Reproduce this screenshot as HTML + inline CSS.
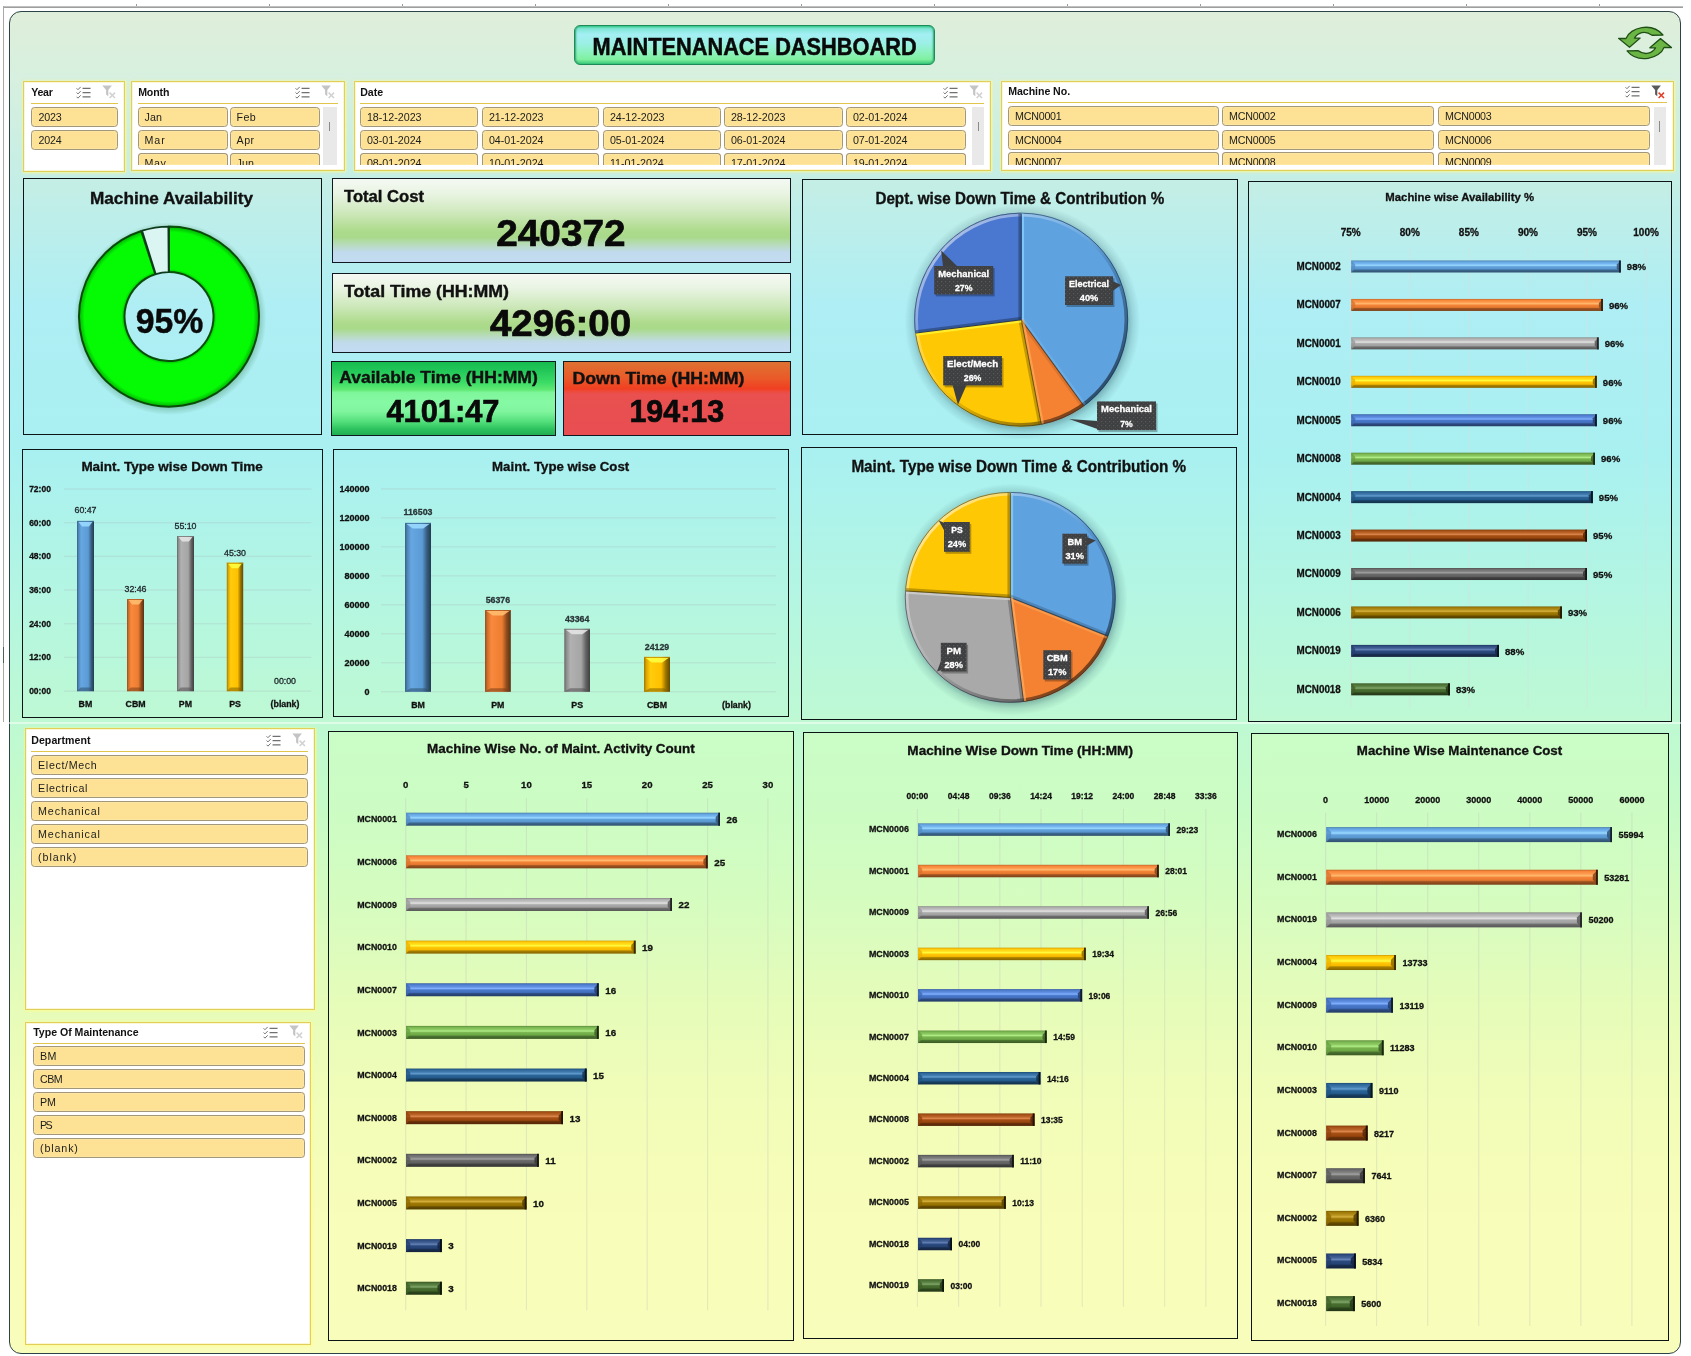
<!DOCTYPE html>
<html lang="en"><head><meta charset="utf-8"><title>Maintenance Dashboard</title>
<style>
html,body{margin:0;padding:0;background:#fff;}
body{width:1691px;height:1356px;position:relative;overflow:hidden;font-family:"Liberation Sans",sans-serif;}
#frame{position:absolute;left:8.6px;top:10.6px;width:1672.5px;height:1343.6px;box-sizing:border-box;
 border:1.7px solid #2c4348;border-radius:12px;
 background:linear-gradient(180deg,#dfeeda 0%,#d7f0df 5%,#c3eee6 13%,#aeeef4 22%,#a9f0f1 33%,#b4f6e1 44%,#bef9d3 53%,#c5fbc7 59%,#d5fcc0 66%,#e6fcb9 74%,#f2fdb8 82%,#f8fdb9 90%,#f9fdbb 100%);}
.topline{position:absolute;left:4px;top:5.6px;width:1679px;height:2px;background:linear-gradient(180deg,#d0d0d0,#8f8f8f);}
.tk{position:absolute;top:3.6px;width:1px;height:3px;background:#9a9a9a;}
.leftline{position:absolute;left:3px;top:6px;width:1.2px;height:716px;background:#a8a8a8;}
.leftmark{position:absolute;left:3px;top:647px;width:1.2px;height:16px;background:#4a6258;}
.seam{position:absolute;top:722.4px;height:1.2px;background:rgba(255,255,255,0.5);}
.panel{position:absolute;box-sizing:border-box;border:1.3px solid #0c1416;}
.pb{background:linear-gradient(180deg,rgba(212,255,190,0.55) 0%,rgba(214,254,190,0.38) 14%,rgba(220,253,190,0) 40%);}
.kpi{position:absolute;box-sizing:border-box;border:1.2px solid #101820;}
.k1{background:linear-gradient(180deg,#f4f9f3 0%,#e9f4e2 18%,#cfe9bd 40%,#aedb8d 62%,#a9d98a 70%,#b9dcc0 80%,#c1daec 88%,#c4dcf2 100%);}
.k2{background:linear-gradient(180deg,#16bd4e 0%,#1fc556 10%,#3bdc66 28%,#5fe973 38%,#7ff69b 42%,#86f9a4 55%,#80f59e 68%,#52de7a 82%,#2cc25e 92%,#1fae52 100%);}
.k3{background:linear-gradient(180deg,#de7232 0%,#ea5a28 22%,#f03f22 37%,#ee4a3a 40%,#e9504f 44%,#e84e52 100%);}
#title{position:absolute;left:574px;top:25.4px;width:361px;height:40.4px;box-sizing:border-box;
 border:1.4px solid #1e8a58;border-radius:6px;
 background:linear-gradient(180deg,#34c98a 0%,#7fe6d4 7%,#a4eff4 22%,#9cf0e6 45%,#8cf2bd 70%,#7ff0a0 88%,#37c777 100%);
 box-shadow:inset 2px 0 2px -1px #2aa66e, inset -2px 0 2px -1px #2aa66e;}
.slicer{position:absolute;box-sizing:border-box;border:1px solid #e2cf5a;background:#fff;overflow:hidden;
 box-shadow:inset 0 0 0 1px #fbf6d4, 0 0 2.5px 0.5px rgba(255,252,140,0.85);}
.sh{position:absolute;font-weight:bold;color:#111;white-space:nowrap;line-height:13px;}
.ul{position:absolute;height:1.3px;background:#dfc54c;}
.ic{position:absolute;}
.sb{position:absolute;box-sizing:border-box;border:1px solid #a2977a;border-radius:3.5px;background:#fde295;
 font-size:10.6px;color:#1c1c1c;white-space:nowrap;overflow:hidden;
 box-shadow:inset 0 0 0 1px #fde6a2;}
.sb span{position:absolute;left:6.2px;top:1.6px;line-height:14px;}
.sc{position:absolute;background:#e9e9e9;}
.st{position:absolute;width:1px;background:#8a8a8a;}
svg text{font-family:"Liberation Sans",sans-serif;}
#charts{position:absolute;left:0;top:0;}
#charts,.slicer,.kpi,#title{will-change:transform;}
</style></head>
<body>
<div class="tk" style="left:135.7px"></div><div class="tk" style="left:268.75px"></div><div class="tk" style="left:401.8px"></div><div class="tk" style="left:534.85px"></div><div class="tk" style="left:667.9px"></div><div class="tk" style="left:800.95px"></div><div class="tk" style="left:934px"></div><div class="tk" style="left:1067.05px"></div><div class="tk" style="left:1200.1px"></div><div class="tk" style="left:1333.15px"></div><div class="tk" style="left:1466.2px"></div><div class="tk" style="left:1599.25px"></div>
<div class="topline"></div><div class="leftline"></div><div class="leftmark"></div>
<div id="frame"></div>
<div class="seam" style="left:0;width:1691px"></div>
<div id="title"><svg width="361" height="40" style="position:absolute;left:-1.4px;top:-1.4px"><text x="180.6" y="30" font-size="23.6" font-weight="bold" fill="#0a0a0a" stroke="#0a0a0a" stroke-width="0.5" text-anchor="middle" textLength="324" lengthAdjust="spacingAndGlyphs">MAINTENANACE DASHBOARD</text></svg></div>
<svg style="position:absolute;left:1617px;top:24.2px" width="56" height="39" viewBox="0 0 56 36" preserveAspectRatio="none"><g fill="#6bb545" stroke="#1f4f17" stroke-width="1.2" stroke-linejoin="round"><path d="M1.5 13.2 L9 13.4 C13 3 35 -2 46 10.2 L35 10.4 C28 5.6 21 8 17.4 13 L23.2 13 L12.5 21.5 Z"/><path d="M54.5 21.8 L47 21.6 C43 32 21 37 10 24.8 L21 24.6 C28 29.4 35 27 38.6 22 L32.8 22 L43.5 13.5 Z"/></g></svg>
<div class="panel" style="left:22.5px;top:177.5px;width:299.5px;height:257px;"></div>
<div class="panel" style="left:802px;top:179px;width:436px;height:255.5px;"></div>
<div class="panel" style="left:1248px;top:181px;width:423.5px;height:540.5px;"></div>
<div class="panel" style="left:22px;top:449px;width:301px;height:269px;"></div>
<div class="panel" style="left:333px;top:449px;width:456.3px;height:268.2px;"></div>
<div class="panel" style="left:801.3px;top:447px;width:435.7px;height:272.8px;"></div>
<div class="panel pb" style="left:328px;top:731px;width:465.6px;height:610.3px;"></div>
<div class="panel pb" style="left:803px;top:732.3px;width:435px;height:606.9px;"></div>
<div class="panel pb" style="left:1251px;top:733.2px;width:418px;height:607.6px;"></div>
<div class="kpi k1" style="left:332px;top:178px;width:459px;height:84.8px;"><svg width="459" height="84.8" style="position:absolute;left:0;top:0;overflow:visible"><text x="11" y="22.5" font-size="16.4" font-weight="bold" fill="#111" stroke="#111" stroke-width="0.4" textLength="80" lengthAdjust="spacingAndGlyphs">Total Cost</text><text x="227.9" y="66.6" font-size="37" font-weight="bold" fill="#0a0a0a" stroke="#0a0a0a" stroke-width="0.7" text-anchor="middle" textLength="129.2" lengthAdjust="spacingAndGlyphs">240372</text></svg></div>
<div class="kpi k1" style="left:332px;top:273.2px;width:459px;height:80.4px;"><svg width="459" height="80.4" style="position:absolute;left:0;top:0;overflow:visible"><text x="11" y="23" font-size="16.4" font-weight="bold" fill="#111" stroke="#111" stroke-width="0.4" textLength="165" lengthAdjust="spacingAndGlyphs">Total Time (HH:MM)</text><text x="227.55" y="62.1" font-size="36.5" font-weight="bold" fill="#0a0a0a" stroke="#0a0a0a" stroke-width="0.7" text-anchor="middle" textLength="141.3" lengthAdjust="spacingAndGlyphs">4296:00</text></svg></div>
<div class="kpi k2" style="left:330.8px;top:360.8px;width:225.4px;height:74.6px;"><svg width="225.4" height="74.6" style="position:absolute;left:0;top:0;overflow:visible"><text x="7.2" y="21.2" font-size="16.4" font-weight="bold" fill="#111" stroke="#111" stroke-width="0.4" textLength="198.6" lengthAdjust="spacingAndGlyphs">Available Time (HH:MM)</text><text x="110.9" y="60" font-size="31.5" font-weight="bold" fill="#0a0a0a" stroke="#0a0a0a" stroke-width="0.7" text-anchor="middle" textLength="113" lengthAdjust="spacingAndGlyphs">4101:47</text></svg></div>
<div class="kpi k3" style="left:562.8px;top:360.8px;width:228.2px;height:74.6px;"><svg width="228.2" height="74.6" style="position:absolute;left:0;top:0;overflow:visible"><text x="8.4" y="21.7" font-size="16.4" font-weight="bold" fill="#111" stroke="#111" stroke-width="0.4" textLength="172" lengthAdjust="spacingAndGlyphs">Down Time (HH:MM)</text><text x="112.75" y="60" font-size="31.5" font-weight="bold" fill="#0a0a0a" stroke="#0a0a0a" stroke-width="0.7" text-anchor="middle" textLength="94.7" lengthAdjust="spacingAndGlyphs">194:13</text></svg></div>
<div class="slicer" style="left:23px;top:81px;width:102px;height:91px;"><div class="sh" style="left:7.2px;top:3.8px;font-size:10.6px;letter-spacing:-0.26px">Year</div><div class="ul" style="left:7px;top:20.9px;width:87px"></div><svg class="ic" style="left:51.5px;top:3.8px" width="15" height="13.2" viewBox="0 0 16 14"><g fill="none" stroke="#707070" stroke-width="1.05"><path d="M0.6 2.4l1.5 1.5L5 0.9M0.6 6.9l1.5 1.5L5 5.4M0.6 11.4l1.5 1.5L5 9.9"/><path d="M7 2.5h8.5M7 7h8.5M7 11.5h8.5" stroke-width="1.3"/></g></svg><svg class="ic" style="left:77.5px;top:3.4px" width="15" height="14" viewBox="0 0 15 14"><path d="M0.3 0.6h9.6L6.3 5v6.2L4.1 9.6V5z" fill="#c4c4c4"/><path d="M7.6 7.6l5.4 5.4M13 7.6l-5.4 5.4" stroke="#d2d2d2" stroke-width="1.5" fill="none"/></svg><div class="sb" style="left:7px;top:25px;width:87px;height:20px;"><span style="left:6.5px;font-size:10.7px;letter-spacing:-0.23px">2023</span></div><div class="sb" style="left:7px;top:48px;width:87px;height:20px;"><span style="left:6.5px;font-size:10.7px;letter-spacing:-0.17px">2024</span></div></div>
<div class="slicer" style="left:131px;top:81px;width:214px;height:90px;"><div class="sh" style="left:6.2px;top:3.8px;font-size:10.6px;letter-spacing:-0.15px">Month</div><div class="ul" style="left:6px;top:20.9px;width:199.6px"></div><svg class="ic" style="left:162.6px;top:3.8px" width="15" height="13.2" viewBox="0 0 16 14"><g fill="none" stroke="#707070" stroke-width="1.05"><path d="M0.6 2.4l1.5 1.5L5 0.9M0.6 6.9l1.5 1.5L5 5.4M0.6 11.4l1.5 1.5L5 9.9"/><path d="M7 2.5h8.5M7 7h8.5M7 11.5h8.5" stroke-width="1.3"/></g></svg><svg class="ic" style="left:189px;top:3.4px" width="15" height="14" viewBox="0 0 15 14"><path d="M0.3 0.6h9.6L6.3 5v6.2L4.1 9.6V5z" fill="#c4c4c4"/><path d="M7.6 7.6l5.4 5.4M13 7.6l-5.4 5.4" stroke="#d2d2d2" stroke-width="1.5" fill="none"/></svg><div class="sb" style="left:6px;top:25px;width:90px;height:20px;"><span style="left:5.6px;font-size:10.7px;letter-spacing:0.1px">Jan</span></div><div class="sb" style="left:98px;top:25px;width:90px;height:20px;"><span style="left:5.6px;font-size:10.7px;letter-spacing:0.3px">Feb</span></div><div class="sb" style="left:6px;top:48px;width:90px;height:20px;"><span style="left:5.6px;font-size:10.7px;letter-spacing:0.87px">Mar</span></div><div class="sb" style="left:98px;top:48px;width:90px;height:20px;"><span style="left:5.6px;font-size:10.7px;letter-spacing:0.42px">Apr</span></div><div class="sb" style="left:6px;top:71px;width:90px;height:11.8px;border-bottom:none;border-radius:3.5px 3.5px 0 0;"><span style="left:5.6px;font-size:10.7px;letter-spacing:0.51px">May</span></div><div class="sb" style="left:98px;top:71px;width:90px;height:11.8px;border-bottom:none;border-radius:3.5px 3.5px 0 0;"><span style="left:5.6px;font-size:10.7px;letter-spacing:0.02px">Jun</span></div><div class="sc" style="left:191.3px;top:25.2px;width:13.4px;height:57.6px"></div><div class="st" style="left:197.4px;top:40px;height:9.3px"></div></div>
<div class="slicer" style="left:354px;top:81px;width:637px;height:90px;"><div class="sh" style="left:5.2px;top:3.8px;font-size:10.6px;letter-spacing:0.01px">Date</div><div class="ul" style="left:5px;top:20.9px;width:624.4px"></div><svg class="ic" style="left:588.2px;top:3.8px" width="15" height="13.2" viewBox="0 0 16 14"><g fill="none" stroke="#707070" stroke-width="1.05"><path d="M0.6 2.4l1.5 1.5L5 0.9M0.6 6.9l1.5 1.5L5 5.4M0.6 11.4l1.5 1.5L5 9.9"/><path d="M7 2.5h8.5M7 7h8.5M7 11.5h8.5" stroke-width="1.3"/></g></svg><svg class="ic" style="left:613.6px;top:3.4px" width="15" height="14" viewBox="0 0 15 14"><path d="M0.3 0.6h9.6L6.3 5v6.2L4.1 9.6V5z" fill="#c4c4c4"/><path d="M7.6 7.6l5.4 5.4M13 7.6l-5.4 5.4" stroke="#d2d2d2" stroke-width="1.5" fill="none"/></svg><div class="sb" style="left:5px;top:25px;width:118px;height:20px;"><span style="left:5.9px;font-size:10.7px;letter-spacing:0px">18-12-2023</span></div><div class="sb" style="left:127px;top:25px;width:117px;height:20px;"><span style="left:5.9px;font-size:10.7px;letter-spacing:0px">21-12-2023</span></div><div class="sb" style="left:248px;top:25px;width:118px;height:20px;"><span style="left:5.9px;font-size:10.7px;letter-spacing:0px">24-12-2023</span></div><div class="sb" style="left:369px;top:25px;width:119px;height:20px;"><span style="left:5.9px;font-size:10.7px;letter-spacing:0px">28-12-2023</span></div><div class="sb" style="left:491px;top:25px;width:120px;height:20px;"><span style="left:5.9px;font-size:10.7px;letter-spacing:0px">02-01-2024</span></div><div class="sb" style="left:5px;top:48px;width:118px;height:20px;"><span style="left:5.9px;font-size:10.7px;letter-spacing:0px">03-01-2024</span></div><div class="sb" style="left:127px;top:48px;width:117px;height:20px;"><span style="left:5.9px;font-size:10.7px;letter-spacing:0px">04-01-2024</span></div><div class="sb" style="left:248px;top:48px;width:118px;height:20px;"><span style="left:5.9px;font-size:10.7px;letter-spacing:0px">05-01-2024</span></div><div class="sb" style="left:369px;top:48px;width:119px;height:20px;"><span style="left:5.9px;font-size:10.7px;letter-spacing:0px">06-01-2024</span></div><div class="sb" style="left:491px;top:48px;width:120px;height:20px;"><span style="left:5.9px;font-size:10.7px;letter-spacing:0px">07-01-2024</span></div><div class="sb" style="left:5px;top:71px;width:118px;height:11.8px;border-bottom:none;border-radius:3.5px 3.5px 0 0;"><span style="left:5.9px;font-size:10.7px;letter-spacing:0px">08-01-2024</span></div><div class="sb" style="left:127px;top:71px;width:117px;height:11.8px;border-bottom:none;border-radius:3.5px 3.5px 0 0;"><span style="left:5.9px;font-size:10.7px;letter-spacing:0px">10-01-2024</span></div><div class="sb" style="left:248px;top:71px;width:118px;height:11.8px;border-bottom:none;border-radius:3.5px 3.5px 0 0;"><span style="left:5.9px;font-size:10.7px;letter-spacing:0px">11-01-2024</span></div><div class="sb" style="left:369px;top:71px;width:119px;height:11.8px;border-bottom:none;border-radius:3.5px 3.5px 0 0;"><span style="left:5.9px;font-size:10.7px;letter-spacing:0px">17-01-2024</span></div><div class="sb" style="left:491px;top:71px;width:120px;height:11.8px;border-bottom:none;border-radius:3.5px 3.5px 0 0;"><span style="left:5.9px;font-size:10.7px;letter-spacing:0px">19-01-2024</span></div><div class="sc" style="left:616.9px;top:25.2px;width:12.5px;height:57.6px"></div><div class="st" style="left:622.55px;top:40px;height:9.3px"></div></div>
<div class="slicer" style="left:1001px;top:81px;width:673px;height:90px;"><div class="sh" style="left:6.2px;top:2.9px;font-size:10.6px;letter-spacing:-0.05px">Machine No.</div><div class="ul" style="left:6px;top:20px;width:659px"></div><svg class="ic" style="left:623px;top:2.9px" width="15" height="13.2" viewBox="0 0 16 14"><g fill="none" stroke="#707070" stroke-width="1.05"><path d="M0.6 2.4l1.5 1.5L5 0.9M0.6 6.9l1.5 1.5L5 5.4M0.6 11.4l1.5 1.5L5 9.9"/><path d="M7 2.5h8.5M7 7h8.5M7 11.5h8.5" stroke-width="1.3"/></g></svg><svg class="ic" style="left:649.3px;top:2.5px" width="15" height="14" viewBox="0 0 15 14"><path d="M0.3 0.6h9.6L6.3 5v6.2L4.1 9.6V5z" fill="#5a5a5a"/><path d="M7.6 7.6l5.4 5.4M13 7.6l-5.4 5.4" stroke="#e0402a" stroke-width="1.5" fill="none"/></svg><div class="sb" style="left:6px;top:24px;width:211px;height:20px;"><span style="left:6.1px;font-size:10.7px;letter-spacing:-0.25px">MCN0001</span></div><div class="sb" style="left:220px;top:24px;width:212px;height:20px;"><span style="left:6.1px;font-size:10.7px;letter-spacing:-0.25px">MCN0002</span></div><div class="sb" style="left:436px;top:24px;width:212px;height:20px;"><span style="left:6.1px;font-size:10.7px;letter-spacing:-0.25px">MCN0003</span></div><div class="sb" style="left:6px;top:48px;width:211px;height:20px;"><span style="left:6.1px;font-size:10.7px;letter-spacing:-0.25px">MCN0004</span></div><div class="sb" style="left:220px;top:48px;width:212px;height:20px;"><span style="left:6.1px;font-size:10.7px;letter-spacing:-0.25px">MCN0005</span></div><div class="sb" style="left:436px;top:48px;width:212px;height:20px;"><span style="left:6.1px;font-size:10.7px;letter-spacing:-0.25px">MCN0006</span></div><div class="sb" style="left:6px;top:70px;width:211px;height:12.6px;border-bottom:none;border-radius:3.5px 3.5px 0 0;"><span style="left:6.1px;font-size:10.7px;letter-spacing:-0.25px">MCN0007</span></div><div class="sb" style="left:220px;top:70px;width:212px;height:12.6px;border-bottom:none;border-radius:3.5px 3.5px 0 0;"><span style="left:6.1px;font-size:10.7px;letter-spacing:-0.25px">MCN0008</span></div><div class="sb" style="left:436px;top:70px;width:212px;height:12.6px;border-bottom:none;border-radius:3.5px 3.5px 0 0;"><span style="left:6.1px;font-size:10.7px;letter-spacing:-0.25px">MCN0009</span></div><div class="sc" style="left:651.5px;top:24.5px;width:12.9px;height:58.1px"></div><div class="st" style="left:657.35px;top:39.1px;height:10.9px"></div></div>
<div class="slicer" style="left:25px;top:728px;width:290px;height:282px;"><div class="sh" style="left:5.2px;top:4.6px;font-size:10.6px;letter-spacing:0.06px">Department</div><div class="ul" style="left:5px;top:21.6px;width:277px"></div><svg class="ic" style="left:240.3px;top:4.6px" width="15" height="13.2" viewBox="0 0 16 14"><g fill="none" stroke="#707070" stroke-width="1.05"><path d="M0.6 2.4l1.5 1.5L5 0.9M0.6 6.9l1.5 1.5L5 5.4M0.6 11.4l1.5 1.5L5 9.9"/><path d="M7 2.5h8.5M7 7h8.5M7 11.5h8.5" stroke-width="1.3"/></g></svg><svg class="ic" style="left:265.9px;top:4.2px" width="15" height="14" viewBox="0 0 15 14"><path d="M0.3 0.6h9.6L6.3 5v6.2L4.1 9.6V5z" fill="#c4c4c4"/><path d="M7.6 7.6l5.4 5.4M13 7.6l-5.4 5.4" stroke="#d2d2d2" stroke-width="1.5" fill="none"/></svg><div class="sb" style="left:5px;top:26px;width:277px;height:20px;"><span style="left:6.1px;font-size:10.7px;letter-spacing:0.64px">Elect/Mech</span></div><div class="sb" style="left:5px;top:49px;width:277px;height:20px;"><span style="left:6.1px;font-size:10.7px;letter-spacing:0.66px">Electrical</span></div><div class="sb" style="left:5px;top:72px;width:277px;height:20px;"><span style="left:6.1px;font-size:10.7px;letter-spacing:0.87px">Mechanical</span></div><div class="sb" style="left:5px;top:95px;width:277px;height:20px;"><span style="left:6.1px;font-size:10.7px;letter-spacing:0.87px">Mechanical</span></div><div class="sb" style="left:5px;top:118px;width:277px;height:20px;"><span style="left:6.1px;font-size:10.7px;letter-spacing:0.94px">(blank)</span></div></div>
<div class="slicer" style="left:25px;top:1022px;width:286px;height:323px;"><div class="sh" style="left:7.2px;top:2.6px;font-size:10.6px;letter-spacing:-0.02px">Type Of Maintenance</div><div class="ul" style="left:7px;top:19.5px;width:272px"></div><svg class="ic" style="left:236.6px;top:2.6px" width="15" height="13.2" viewBox="0 0 16 14"><g fill="none" stroke="#707070" stroke-width="1.05"><path d="M0.6 2.4l1.5 1.5L5 0.9M0.6 6.9l1.5 1.5L5 5.4M0.6 11.4l1.5 1.5L5 9.9"/><path d="M7 2.5h8.5M7 7h8.5M7 11.5h8.5" stroke-width="1.3"/></g></svg><svg class="ic" style="left:262.6px;top:2.2px" width="15" height="14" viewBox="0 0 15 14"><path d="M0.3 0.6h9.6L6.3 5v6.2L4.1 9.6V5z" fill="#c4c4c4"/><path d="M7.6 7.6l5.4 5.4M13 7.6l-5.4 5.4" stroke="#d2d2d2" stroke-width="1.5" fill="none"/></svg><div class="sb" style="left:7px;top:23px;width:272px;height:20px;"><span style="left:6.1px;font-size:10.7px;letter-spacing:0.37px">BM</span></div><div class="sb" style="left:7px;top:46px;width:272px;height:20px;"><span style="left:6.1px;font-size:10.7px;letter-spacing:-0.63px">CBM</span></div><div class="sb" style="left:7px;top:69px;width:272px;height:20px;"><span style="left:6.1px;font-size:10.7px;letter-spacing:-0.3px">PM</span></div><div class="sb" style="left:7px;top:92px;width:272px;height:20px;"><span style="left:6.1px;font-size:10.7px;letter-spacing:-1.65px">PS</span></div><div class="sb" style="left:7px;top:115px;width:272px;height:20px;"><span style="left:6.1px;font-size:10.7px;letter-spacing:0.86px">(blank)</span></div></div>
<svg id="charts" width="1691" height="1356" viewBox="0 0 1691 1356">
<defs><pattern id="dots" width="4" height="4" patternUnits="userSpaceOnUse"><rect width="4" height="4" fill="#3f4041"/><rect x="1" y="1" width="1.2" height="1.2" fill="#5a5a5a"/><rect x="3" y="3" width="1.2" height="1.2" fill="#4e4e4e"/></pattern><radialGradient id="dnsh" cx="0.5" cy="0.5" r="0.5"><stop offset="0.80" stop-color="#0a500a" stop-opacity="0"/><stop offset="0.90" stop-color="#0a500a" stop-opacity="0.30"/><stop offset="1" stop-color="#0a500a" stop-opacity="0"/></radialGradient><radialGradient id="dnbv" cx="0.5" cy="0.5" r="0.5"><stop offset="0.49" stop-color="#003000" stop-opacity="0.35"/><stop offset="0.53" stop-color="#003000" stop-opacity="0"/><stop offset="0.94" stop-color="#003000" stop-opacity="0"/><stop offset="1" stop-color="#003000" stop-opacity="0.38"/></radialGradient><radialGradient id="p1sh" cx="0.5" cy="0.5" r="0.5"><stop offset="0.88" stop-color="#1c4a55" stop-opacity="0.40"/><stop offset="0.94" stop-color="#1c4a55" stop-opacity="0.14"/><stop offset="1" stop-color="#1c4a55" stop-opacity="0"/></radialGradient><linearGradient id="rimlg" x1="0.15" y1="0.15" x2="0.85" y2="0.85"><stop offset="0" stop-color="#fff" stop-opacity="0.50"/><stop offset="0.42" stop-color="#fff" stop-opacity="0.10"/><stop offset="0.58" stop-color="#000" stop-opacity="0.12"/><stop offset="1" stop-color="#000" stop-opacity="0.50"/></linearGradient><radialGradient id="p2sh" cx="0.5" cy="0.5" r="0.5"><stop offset="0.88" stop-color="#1c4a55" stop-opacity="0.40"/><stop offset="0.94" stop-color="#1c4a55" stop-opacity="0.14"/><stop offset="1" stop-color="#1c4a55" stop-opacity="0"/></radialGradient><linearGradient id="hb5b9bd5" x1="0" y1="0" x2="0" y2="1"><stop offset="0" stop-color="#497caa"/><stop offset="0.10" stop-color="#63a3dd"/><stop offset="0.28" stop-color="#79b9f3"/><stop offset="0.40" stop-color="#99d9ff"/><stop offset="0.52" stop-color="#61a1db"/><stop offset="0.70" stop-color="#5896cf"/><stop offset="0.80" stop-color="#3c668d"/><stop offset="1" stop-color="#2f516f"/></linearGradient><linearGradient id="hbed7d31" x1="0" y1="0" x2="0" y2="1"><stop offset="0" stop-color="#be6427"/><stop offset="0.10" stop-color="#f58539"/><stop offset="0.28" stop-color="#ff9b4f"/><stop offset="0.40" stop-color="#ffbb6f"/><stop offset="0.52" stop-color="#f38337"/><stop offset="0.70" stop-color="#e67930"/><stop offset="0.80" stop-color="#9c5220"/><stop offset="1" stop-color="#7b4119"/></linearGradient><linearGradient id="hba5a5a5" x1="0" y1="0" x2="0" y2="1"><stop offset="0" stop-color="#848484"/><stop offset="0.10" stop-color="#adadad"/><stop offset="0.28" stop-color="#c3c3c3"/><stop offset="0.40" stop-color="#e3e3e3"/><stop offset="0.52" stop-color="#ababab"/><stop offset="0.70" stop-color="#a0a0a0"/><stop offset="0.80" stop-color="#6d6d6d"/><stop offset="1" stop-color="#565656"/></linearGradient><linearGradient id="hbffc000" x1="0" y1="0" x2="0" y2="1"><stop offset="0" stop-color="#cc9a00"/><stop offset="0.10" stop-color="#ffc808"/><stop offset="0.28" stop-color="#ffde1e"/><stop offset="0.40" stop-color="#fffe3e"/><stop offset="0.52" stop-color="#ffc606"/><stop offset="0.70" stop-color="#f7ba00"/><stop offset="0.80" stop-color="#a87f00"/><stop offset="1" stop-color="#856400"/></linearGradient><linearGradient id="hb4472c4" x1="0" y1="0" x2="0" y2="1"><stop offset="0" stop-color="#365b9d"/><stop offset="0.10" stop-color="#4c7acc"/><stop offset="0.28" stop-color="#6290e2"/><stop offset="0.40" stop-color="#82b0ff"/><stop offset="0.52" stop-color="#4a78ca"/><stop offset="0.70" stop-color="#426fbe"/><stop offset="0.80" stop-color="#2d4b81"/><stop offset="1" stop-color="#233b66"/></linearGradient><linearGradient id="hb70ad47" x1="0" y1="0" x2="0" y2="1"><stop offset="0" stop-color="#5a8a39"/><stop offset="0.10" stop-color="#78b54f"/><stop offset="0.28" stop-color="#8ecb65"/><stop offset="0.40" stop-color="#aeeb85"/><stop offset="0.52" stop-color="#76b34d"/><stop offset="0.70" stop-color="#6da845"/><stop offset="0.80" stop-color="#4a722f"/><stop offset="1" stop-color="#3a5a25"/></linearGradient><linearGradient id="hb255e91" x1="0" y1="0" x2="0" y2="1"><stop offset="0" stop-color="#1e4b74"/><stop offset="0.10" stop-color="#2d6699"/><stop offset="0.28" stop-color="#437caf"/><stop offset="0.40" stop-color="#639ccf"/><stop offset="0.52" stop-color="#2b6497"/><stop offset="0.70" stop-color="#245b8d"/><stop offset="0.80" stop-color="#183e60"/><stop offset="1" stop-color="#13314b"/></linearGradient><linearGradient id="hb9e480e" x1="0" y1="0" x2="0" y2="1"><stop offset="0" stop-color="#7e3a0b"/><stop offset="0.10" stop-color="#a65016"/><stop offset="0.28" stop-color="#bc662c"/><stop offset="0.40" stop-color="#dc864c"/><stop offset="0.52" stop-color="#a44e14"/><stop offset="0.70" stop-color="#99460e"/><stop offset="0.80" stop-color="#683009"/><stop offset="1" stop-color="#522507"/></linearGradient><linearGradient id="hb636363" x1="0" y1="0" x2="0" y2="1"><stop offset="0" stop-color="#4f4f4f"/><stop offset="0.10" stop-color="#6b6b6b"/><stop offset="0.28" stop-color="#818181"/><stop offset="0.40" stop-color="#a1a1a1"/><stop offset="0.52" stop-color="#696969"/><stop offset="0.70" stop-color="#606060"/><stop offset="0.80" stop-color="#414141"/><stop offset="1" stop-color="#333333"/></linearGradient><linearGradient id="hb997300" x1="0" y1="0" x2="0" y2="1"><stop offset="0" stop-color="#7a5c00"/><stop offset="0.10" stop-color="#a17b08"/><stop offset="0.28" stop-color="#b7911e"/><stop offset="0.40" stop-color="#d7b13e"/><stop offset="0.52" stop-color="#9f7906"/><stop offset="0.70" stop-color="#947000"/><stop offset="0.80" stop-color="#654c00"/><stop offset="1" stop-color="#503c00"/></linearGradient><linearGradient id="hb264478" x1="0" y1="0" x2="0" y2="1"><stop offset="0" stop-color="#1e3660"/><stop offset="0.10" stop-color="#2e4c80"/><stop offset="0.28" stop-color="#446296"/><stop offset="0.40" stop-color="#6482b6"/><stop offset="0.52" stop-color="#2c4a7e"/><stop offset="0.70" stop-color="#254274"/><stop offset="0.80" stop-color="#192d4f"/><stop offset="1" stop-color="#14233e"/></linearGradient><linearGradient id="hb43682b" x1="0" y1="0" x2="0" y2="1"><stop offset="0" stop-color="#365322"/><stop offset="0.10" stop-color="#4b7033"/><stop offset="0.28" stop-color="#618649"/><stop offset="0.40" stop-color="#81a669"/><stop offset="0.52" stop-color="#496e31"/><stop offset="0.70" stop-color="#41652a"/><stop offset="0.80" stop-color="#2c451c"/><stop offset="1" stop-color="#233616"/></linearGradient><linearGradient id="vb5b9bd5" x1="0" y1="0" x2="1" y2="0"><stop offset="0" stop-color="#386084"/><stop offset="0.09" stop-color="#4e85b7"/><stop offset="0.24" stop-color="#67a7e1"/><stop offset="0.66" stop-color="#5b9bd5"/><stop offset="0.84" stop-color="#375d80"/><stop offset="1" stop-color="#233b51"/></linearGradient><linearGradient id="vbed7d31" x1="0" y1="0" x2="1" y2="0"><stop offset="0" stop-color="#934e1e"/><stop offset="0.09" stop-color="#cc6c2a"/><stop offset="0.24" stop-color="#f9893d"/><stop offset="0.66" stop-color="#ed7d31"/><stop offset="0.84" stop-color="#8e4b1d"/><stop offset="1" stop-color="#5a3013"/></linearGradient><linearGradient id="vba5a5a5" x1="0" y1="0" x2="1" y2="0"><stop offset="0" stop-color="#666666"/><stop offset="0.09" stop-color="#8e8e8e"/><stop offset="0.24" stop-color="#b1b1b1"/><stop offset="0.66" stop-color="#a5a5a5"/><stop offset="0.84" stop-color="#636363"/><stop offset="1" stop-color="#3f3f3f"/></linearGradient><linearGradient id="vbffc000" x1="0" y1="0" x2="1" y2="0"><stop offset="0" stop-color="#9e7700"/><stop offset="0.09" stop-color="#dba500"/><stop offset="0.24" stop-color="#ffcc0c"/><stop offset="0.66" stop-color="#ffc000"/><stop offset="0.84" stop-color="#997300"/><stop offset="1" stop-color="#614900"/></linearGradient></defs>
<text x="171.5" y="204.2" font-size="16.6" font-weight="bold" text-anchor="middle" fill="#111" textLength="163" lengthAdjust="spacingAndGlyphs" stroke="#111" stroke-width="0.34">Machine Availability</text>
<circle cx="170" cy="318.6" r="96.3" fill="url(#dnsh)"/>
<path d="M169,226.6 A90,90 0 1 1 141.19,231 L155.25,274.28 A44.5,44.5 0 1 0 169,272.1 Z" fill="#04fb04" stroke="#0c520c" stroke-width="2" stroke-linejoin="round"/>
<path d="M142.09,230.72 A90,90 0 0 1 168.37,226.6 L168.69,272.1 A44.5,44.5 0 0 0 155.69,274.14 Z" fill="#dbf5f2" stroke="#0c3a1c" stroke-width="1.8" stroke-linejoin="round"/>
<path d="M169,226.6 A90,90 0 1 1 141.19,231 L155.25,274.28 A44.5,44.5 0 1 0 169,272.1 Z" fill="url(#dnbv)"/>
<text x="169.6" y="333.3" font-size="35" font-weight="bold" text-anchor="middle" fill="#0a0a0a" textLength="67.6" lengthAdjust="spacingAndGlyphs" stroke="#0a0a0a" stroke-width="0.45">95%</text>
<text x="1019.85" y="204" font-size="15.6" font-weight="bold" text-anchor="middle" fill="#111" textLength="288.9" lengthAdjust="spacingAndGlyphs" stroke="#111" stroke-width="0.33">Dept. wise Down Time &amp; Contribution %</text>
<circle cx="1022.4" cy="321.9" r="117.7" fill="url(#p1sh)"/>
<path d="M1021.2,319.7 L1021.2,212.7 A107,107 0 0 1 1084.09,406.26 Z" fill="#5ea2e0"/>
<path d="M1021.2,319.7 L1084.09,406.26 A107,107 0 0 1 1041.25,424.8 Z" fill="#f58233"/>
<path d="M1021.2,319.7 L1041.25,424.8 A107,107 0 0 1 915.04,333.11 Z" fill="#ffc805"/>
<path d="M1021.2,319.7 L915.04,333.11 A107,107 0 0 1 1021.2,212.7 Z" fill="#4a78d0"/>
<circle cx="1021.2" cy="319.7" r="105" fill="none" stroke="url(#rimlg)" stroke-width="3.4"/>
<circle cx="1021.2" cy="319.7" r="106.5" fill="none" stroke="#10263a" stroke-opacity="0.55" stroke-width="1"/>
<line x1="1019.5" y1="319.7" x2="1019.5" y2="213.7" stroke="#21365e" stroke-width="2.3" stroke-opacity="0.49"/>
<line x1="1022.9" y1="319.7" x2="1022.9" y2="213.7" stroke="#8ed2ff" stroke-width="2.3" stroke-opacity="0.72"/>
<line x1="1021.2" y1="319.7" x2="1021.2" y2="213.7" stroke="#1a2a49" stroke-width="1.1" stroke-opacity="0.85"/>
<line x1="1022.58" y1="318.7" x2="1084.88" y2="404.46" stroke="#8ed2ff" stroke-width="2.3" stroke-opacity="0.25"/>
<line x1="1019.82" y1="320.7" x2="1082.13" y2="406.46" stroke="#6e3a17" stroke-width="2.3" stroke-opacity="0.19"/>
<line x1="1021.2" y1="319.7" x2="1083.51" y2="405.46" stroke="#562e12" stroke-width="1.1" stroke-opacity="0.85"/>
<line x1="1022.87" y1="319.38" x2="1042.73" y2="423.5" stroke="#ffb263" stroke-width="2.3" stroke-opacity="0.6"/>
<line x1="1019.53" y1="320.02" x2="1039.39" y2="424.14" stroke="#735a02" stroke-width="2.3" stroke-opacity="0.41"/>
<line x1="1021.2" y1="319.7" x2="1041.06" y2="423.82" stroke="#594602" stroke-width="1.1" stroke-opacity="0.85"/>
<line x1="1021.41" y1="321.39" x2="916.25" y2="334.67" stroke="#fff835" stroke-width="2.3" stroke-opacity="0.79"/>
<line x1="1020.99" y1="318.01" x2="915.82" y2="331.3" stroke="#21365e" stroke-width="2.3" stroke-opacity="0.53"/>
<line x1="1021.2" y1="319.7" x2="916.04" y2="332.99" stroke="#1a2a49" stroke-width="1.1" stroke-opacity="0.85"/>
<rect x="935.7" y="268" width="59" height="28.4" fill="#000" opacity="0.28"/>
<polygon points="943,266.5 957.5,266.5 941.2,250.6" fill="#3d3f40"/>
<rect x="934.2" y="266" width="59" height="28.4" fill="url(#dots)"/>
<text x="963.7" y="277" font-size="9.9" font-weight="bold" text-anchor="middle" fill="#fff" textLength="51" lengthAdjust="spacingAndGlyphs" stroke="#fff" stroke-width="0.3">Mechanical</text>
<text x="963.7" y="291.1" font-size="9.9" font-weight="bold" text-anchor="middle" fill="#fff" textLength="17.5" lengthAdjust="spacingAndGlyphs" stroke="#fff" stroke-width="0.3">27%</text>
<rect x="1066.5" y="278.3" width="48" height="28.7" fill="#000" opacity="0.28"/>
<polygon points="1112.5,281 1112.5,291 1121,285" fill="#3d3f40"/>
<rect x="1065" y="276.3" width="48" height="28.7" fill="url(#dots)"/>
<text x="1089" y="287.3" font-size="9.9" font-weight="bold" text-anchor="middle" fill="#fff" textLength="40" lengthAdjust="spacingAndGlyphs" stroke="#fff" stroke-width="0.3">Electrical</text>
<text x="1089" y="301.4" font-size="9.9" font-weight="bold" text-anchor="middle" fill="#fff" textLength="18.5" lengthAdjust="spacingAndGlyphs" stroke="#fff" stroke-width="0.3">40%</text>
<rect x="944.7" y="358.1" width="58.8" height="29.3" fill="#000" opacity="0.28"/>
<polygon points="952.6,385 966.6,385 957.9,404.8" fill="#3d3f40"/>
<rect x="943.2" y="356.1" width="58.8" height="29.3" fill="url(#dots)"/>
<text x="972.6" y="367.1" font-size="9.9" font-weight="bold" text-anchor="middle" fill="#fff" textLength="51" lengthAdjust="spacingAndGlyphs" stroke="#fff" stroke-width="0.3">Elect/Mech</text>
<text x="972.6" y="381.2" font-size="9.9" font-weight="bold" text-anchor="middle" fill="#fff" textLength="17.5" lengthAdjust="spacingAndGlyphs" stroke="#fff" stroke-width="0.3">26%</text>
<rect x="1098.5" y="403.4" width="59" height="28.7" fill="#000" opacity="0.28"/>
<polygon points="1097.5,421 1097.5,429 1069,419" fill="#3d3f40"/>
<rect x="1097" y="401.4" width="59" height="28.7" fill="url(#dots)"/>
<text x="1126.5" y="412.4" font-size="9.9" font-weight="bold" text-anchor="middle" fill="#fff" textLength="51" lengthAdjust="spacingAndGlyphs" stroke="#fff" stroke-width="0.3">Mechanical</text>
<text x="1126.5" y="426.5" font-size="9.9" font-weight="bold" text-anchor="middle" fill="#fff" textLength="12.5" lengthAdjust="spacingAndGlyphs" stroke="#fff" stroke-width="0.3">7%</text>
<text x="1018.8" y="472" font-size="15.6" font-weight="bold" text-anchor="middle" fill="#111" textLength="334.8" lengthAdjust="spacingAndGlyphs" stroke="#111" stroke-width="0.33">Maint. Type wise Down Time &amp; Contribution %</text>
<circle cx="1011.5" cy="599.6" r="116.05" fill="url(#p2sh)"/>
<path d="M1010.3,597.4 L1010.3,491.9 A105.5,105.5 0 0 1 1108.39,636.24 Z" fill="#5ea2e0"/>
<path d="M1010.3,597.4 L1108.39,636.24 A105.5,105.5 0 0 1 1023.52,702.07 Z" fill="#f58233"/>
<path d="M1010.3,597.4 L1023.52,702.07 A105.5,105.5 0 0 1 905.01,590.78 Z" fill="#a9a9a9"/>
<path d="M1010.3,597.4 L905.01,590.78 A105.5,105.5 0 0 1 1010.3,491.9 Z" fill="#ffc805"/>
<circle cx="1010.3" cy="597.4" r="103.5" fill="none" stroke="url(#rimlg)" stroke-width="3.4"/>
<circle cx="1010.3" cy="597.4" r="105" fill="none" stroke="#10263a" stroke-opacity="0.55" stroke-width="1"/>
<line x1="1008.6" y1="597.4" x2="1008.6" y2="492.9" stroke="#735a02" stroke-width="2.3" stroke-opacity="0.49"/>
<line x1="1012" y1="597.4" x2="1012" y2="492.9" stroke="#8ed2ff" stroke-width="2.3" stroke-opacity="0.72"/>
<line x1="1010.3" y1="597.4" x2="1010.3" y2="492.9" stroke="#594602" stroke-width="1.1" stroke-opacity="0.85"/>
<line x1="1010.93" y1="595.82" x2="1108.09" y2="634.29" stroke="#2a4965" stroke-width="2.3" stroke-opacity="0.32"/>
<line x1="1009.67" y1="598.98" x2="1106.84" y2="637.45" stroke="#ffb263" stroke-width="2.3" stroke-opacity="0.46"/>
<line x1="1010.3" y1="597.4" x2="1107.46" y2="635.87" stroke="#21394e" stroke-width="1.1" stroke-opacity="0.85"/>
<line x1="1011.99" y1="597.19" x2="1025.08" y2="700.86" stroke="#ffb263" stroke-width="2.3" stroke-opacity="0.64"/>
<line x1="1008.61" y1="597.61" x2="1021.71" y2="701.29" stroke="#4c4c4c" stroke-width="2.3" stroke-opacity="0.44"/>
<line x1="1010.3" y1="597.4" x2="1023.4" y2="701.08" stroke="#3b3b3b" stroke-width="1.1" stroke-opacity="0.85"/>
<line x1="1010.19" y1="599.1" x2="905.9" y2="592.54" stroke="#d9d9d9" stroke-width="2.3" stroke-opacity="0.68"/>
<line x1="1010.41" y1="595.7" x2="906.11" y2="589.14" stroke="#735a02" stroke-width="2.3" stroke-opacity="0.46"/>
<line x1="1010.3" y1="597.4" x2="906.01" y2="590.84" stroke="#594602" stroke-width="1.1" stroke-opacity="0.85"/>
<rect x="945.5" y="524" width="25.8" height="29.8" fill="#000" opacity="0.28"/>
<polygon points="944.5,523 944.5,531 938.7,520.4" fill="#3d3f40"/>
<rect x="944" y="522" width="25.8" height="29.8" fill="url(#dots)"/>
<text x="956.9" y="533" font-size="9.9" font-weight="bold" text-anchor="middle" fill="#fff" textLength="11.5" lengthAdjust="spacingAndGlyphs" stroke="#fff" stroke-width="0.3">PS</text>
<text x="956.9" y="547.1" font-size="9.9" font-weight="bold" text-anchor="middle" fill="#fff" textLength="18.5" lengthAdjust="spacingAndGlyphs" stroke="#fff" stroke-width="0.3">24%</text>
<rect x="1063.9" y="535.7" width="24.6" height="30" fill="#000" opacity="0.28"/>
<polygon points="1086.5,537 1086.5,546 1095.7,540.6" fill="#3d3f40"/>
<rect x="1062.4" y="533.7" width="24.6" height="30" fill="url(#dots)"/>
<text x="1074.7" y="544.7" font-size="9.9" font-weight="bold" text-anchor="middle" fill="#fff" textLength="14.5" lengthAdjust="spacingAndGlyphs" stroke="#fff" stroke-width="0.3">BM</text>
<text x="1074.7" y="558.8" font-size="9.9" font-weight="bold" text-anchor="middle" fill="#fff" textLength="18.5" lengthAdjust="spacingAndGlyphs" stroke="#fff" stroke-width="0.3">31%</text>
<rect x="942.3" y="644.8" width="25.8" height="28.7" fill="#000" opacity="0.28"/>
<polygon points="941.3,660 941.3,670 937,671.5" fill="#3d3f40"/>
<rect x="940.8" y="642.8" width="25.8" height="28.7" fill="url(#dots)"/>
<text x="953.7" y="653.8" font-size="9.9" font-weight="bold" text-anchor="middle" fill="#fff" textLength="14.5" lengthAdjust="spacingAndGlyphs" stroke="#fff" stroke-width="0.3">PM</text>
<text x="953.7" y="667.9" font-size="9.9" font-weight="bold" text-anchor="middle" fill="#fff" textLength="18.5" lengthAdjust="spacingAndGlyphs" stroke="#fff" stroke-width="0.3">28%</text>
<rect x="1044.8" y="652.2" width="27.7" height="29.3" fill="#000" opacity="0.28"/>
<rect x="1043.3" y="650.2" width="27.7" height="29.3" fill="url(#dots)"/>
<text x="1057.15" y="661.2" font-size="9.9" font-weight="bold" text-anchor="middle" fill="#fff" textLength="21" lengthAdjust="spacingAndGlyphs" stroke="#fff" stroke-width="0.3">CBM</text>
<text x="1057.15" y="675.3" font-size="9.9" font-weight="bold" text-anchor="middle" fill="#fff" textLength="18.5" lengthAdjust="spacingAndGlyphs" stroke="#fff" stroke-width="0.3">17%</text>
<text x="1459.7" y="201.3" font-size="11.8" font-weight="bold" text-anchor="middle" fill="#111" textLength="148.8" lengthAdjust="spacingAndGlyphs" stroke="#111" stroke-width="0.31">Machine wise Availability %</text>
<rect x="1350.15" y="248" width="1.1" height="459.7" fill="rgba(214,226,226,0.5)"/>
<text x="1350.7" y="236.4" font-size="10" font-weight="bold" text-anchor="middle" fill="#111" stroke="#111" stroke-width="0.3">75%</text>
<rect x="1409.23" y="248" width="1.1" height="459.7" fill="rgba(214,226,226,0.5)"/>
<text x="1409.78" y="236.4" font-size="10" font-weight="bold" text-anchor="middle" fill="#111" stroke="#111" stroke-width="0.3">80%</text>
<rect x="1468.31" y="248" width="1.1" height="459.7" fill="rgba(214,226,226,0.5)"/>
<text x="1468.86" y="236.4" font-size="10" font-weight="bold" text-anchor="middle" fill="#111" stroke="#111" stroke-width="0.3">85%</text>
<rect x="1527.39" y="248" width="1.1" height="459.7" fill="rgba(214,226,226,0.5)"/>
<text x="1527.94" y="236.4" font-size="10" font-weight="bold" text-anchor="middle" fill="#111" stroke="#111" stroke-width="0.3">90%</text>
<rect x="1586.47" y="248" width="1.1" height="459.7" fill="rgba(214,226,226,0.5)"/>
<text x="1587.02" y="236.4" font-size="10" font-weight="bold" text-anchor="middle" fill="#111" stroke="#111" stroke-width="0.3">95%</text>
<rect x="1645.55" y="248" width="1.1" height="459.7" fill="rgba(214,226,226,0.5)"/>
<text x="1646.1" y="236.4" font-size="10" font-weight="bold" text-anchor="middle" fill="#111" stroke="#111" stroke-width="0.3">100%</text>
<rect x="1351.2" y="260.5" width="269.6" height="12" fill="url(#hb5b9bd5)"/>
<polygon points="1351.2,260.5 1355.2,264.5 1355.2,268.5 1351.2,272.5" fill="#548fc4" opacity="0.8"/>
<polygon points="1620.8,260.5 1620.8,272.5 1616.8,268.5 1616.8,264.5" fill="#325575" opacity="0.85"/>
<rect x="1619" y="260.5" width="1.8" height="12" fill="#14222f"/>
<text x="1340.8" y="269.94" font-size="10.4" font-weight="bold" text-anchor="end" fill="#111" textLength="44.3" lengthAdjust="spacingAndGlyphs" stroke="#111" stroke-width="0.3">MCN0002</text>
<text x="1626.8" y="270.26" font-size="9.6" font-weight="bold" text-anchor="start" fill="#111" stroke="#111" stroke-width="0.3">98%</text>
<rect x="1351.2" y="298.94" width="251.7" height="12" fill="url(#hbed7d31)"/>
<polygon points="1351.2,298.94 1355.2,302.94 1355.2,306.94 1351.2,310.94" fill="#da732d" opacity="0.8"/>
<polygon points="1602.9,298.94 1602.9,310.94 1598.9,306.94 1598.9,302.94" fill="#82451b" opacity="0.85"/>
<rect x="1601.1" y="298.94" width="1.8" height="12" fill="#341c0b"/>
<text x="1340.8" y="308.38" font-size="10.4" font-weight="bold" text-anchor="end" fill="#111" textLength="44.3" lengthAdjust="spacingAndGlyphs" stroke="#111" stroke-width="0.3">MCN0007</text>
<text x="1608.9" y="308.7" font-size="9.6" font-weight="bold" text-anchor="start" fill="#111" stroke="#111" stroke-width="0.3">96%</text>
<rect x="1351.2" y="337.38" width="247.5" height="12" fill="url(#hba5a5a5)"/>
<polygon points="1351.2,337.38 1355.2,341.38 1355.2,345.38 1351.2,349.38" fill="#989898" opacity="0.8"/>
<polygon points="1598.7,337.38 1598.7,349.38 1594.7,345.38 1594.7,341.38" fill="#5b5b5b" opacity="0.85"/>
<rect x="1596.9" y="337.38" width="1.8" height="12" fill="#242424"/>
<text x="1340.8" y="346.82" font-size="10.4" font-weight="bold" text-anchor="end" fill="#111" textLength="44.3" lengthAdjust="spacingAndGlyphs" stroke="#111" stroke-width="0.3">MCN0001</text>
<text x="1604.7" y="347.14" font-size="9.6" font-weight="bold" text-anchor="start" fill="#111" stroke="#111" stroke-width="0.3">96%</text>
<rect x="1351.2" y="375.82" width="245.6" height="12" fill="url(#hbffc000)"/>
<polygon points="1351.2,375.82 1355.2,379.82 1355.2,383.82 1351.2,387.82" fill="#ebb100" opacity="0.8"/>
<polygon points="1596.8,375.82 1596.8,387.82 1592.8,383.82 1592.8,379.82" fill="#8c6a00" opacity="0.85"/>
<rect x="1595" y="375.82" width="1.8" height="12" fill="#382a00"/>
<text x="1340.8" y="385.26" font-size="10.4" font-weight="bold" text-anchor="end" fill="#111" textLength="44.3" lengthAdjust="spacingAndGlyphs" stroke="#111" stroke-width="0.3">MCN0010</text>
<text x="1602.8" y="385.58" font-size="9.6" font-weight="bold" text-anchor="start" fill="#111" stroke="#111" stroke-width="0.3">96%</text>
<rect x="1351.2" y="414.26" width="245.6" height="12" fill="url(#hb4472c4)"/>
<polygon points="1351.2,414.26 1355.2,418.26 1355.2,422.26 1351.2,426.26" fill="#3f69b4" opacity="0.8"/>
<polygon points="1596.8,414.26 1596.8,426.26 1592.8,422.26 1592.8,418.26" fill="#253f6c" opacity="0.85"/>
<rect x="1595" y="414.26" width="1.8" height="12" fill="#0f192b"/>
<text x="1340.8" y="423.7" font-size="10.4" font-weight="bold" text-anchor="end" fill="#111" textLength="44.3" lengthAdjust="spacingAndGlyphs" stroke="#111" stroke-width="0.3">MCN0005</text>
<text x="1602.8" y="424.02" font-size="9.6" font-weight="bold" text-anchor="start" fill="#111" stroke="#111" stroke-width="0.3">96%</text>
<rect x="1351.2" y="452.7" width="243.8" height="12" fill="url(#hb70ad47)"/>
<polygon points="1351.2,452.7 1355.2,456.7 1355.2,460.7 1351.2,464.7" fill="#679f41" opacity="0.8"/>
<polygon points="1595,452.7 1595,464.7 1591,460.7 1591,456.7" fill="#3e5f27" opacity="0.85"/>
<rect x="1593.2" y="452.7" width="1.8" height="12" fill="#192610"/>
<text x="1340.8" y="462.14" font-size="10.4" font-weight="bold" text-anchor="end" fill="#111" textLength="44.3" lengthAdjust="spacingAndGlyphs" stroke="#111" stroke-width="0.3">MCN0008</text>
<text x="1601" y="462.46" font-size="9.6" font-weight="bold" text-anchor="start" fill="#111" stroke="#111" stroke-width="0.3">96%</text>
<rect x="1351.2" y="491.14" width="241.6" height="12" fill="url(#hb255e91)"/>
<polygon points="1351.2,491.14 1355.2,495.14 1355.2,499.14 1351.2,503.14" fill="#225685" opacity="0.8"/>
<polygon points="1592.8,491.14 1592.8,503.14 1588.8,499.14 1588.8,495.14" fill="#143450" opacity="0.85"/>
<rect x="1591" y="491.14" width="1.8" height="12" fill="#081520"/>
<text x="1340.8" y="500.58" font-size="10.4" font-weight="bold" text-anchor="end" fill="#111" textLength="44.3" lengthAdjust="spacingAndGlyphs" stroke="#111" stroke-width="0.3">MCN0004</text>
<text x="1598.8" y="500.9" font-size="9.6" font-weight="bold" text-anchor="start" fill="#111" stroke="#111" stroke-width="0.3">95%</text>
<rect x="1351.2" y="529.58" width="235.8" height="12" fill="url(#hb9e480e)"/>
<polygon points="1351.2,529.58 1355.2,533.58 1355.2,537.58 1351.2,541.58" fill="#91420d" opacity="0.8"/>
<polygon points="1587,529.58 1587,541.58 1583,537.58 1583,533.58" fill="#572808" opacity="0.85"/>
<rect x="1585.2" y="529.58" width="1.8" height="12" fill="#231003"/>
<text x="1340.8" y="539.02" font-size="10.4" font-weight="bold" text-anchor="end" fill="#111" textLength="44.3" lengthAdjust="spacingAndGlyphs" stroke="#111" stroke-width="0.3">MCN0003</text>
<text x="1593" y="539.34" font-size="9.6" font-weight="bold" text-anchor="start" fill="#111" stroke="#111" stroke-width="0.3">95%</text>
<rect x="1351.2" y="568.02" width="235.8" height="12" fill="url(#hb636363)"/>
<polygon points="1351.2,568.02 1355.2,572.02 1355.2,576.02 1351.2,580.02" fill="#5b5b5b" opacity="0.8"/>
<polygon points="1587,568.02 1587,580.02 1583,576.02 1583,572.02" fill="#363636" opacity="0.85"/>
<rect x="1585.2" y="568.02" width="1.8" height="12" fill="#161616"/>
<text x="1340.8" y="577.46" font-size="10.4" font-weight="bold" text-anchor="end" fill="#111" textLength="44.3" lengthAdjust="spacingAndGlyphs" stroke="#111" stroke-width="0.3">MCN0009</text>
<text x="1593" y="577.78" font-size="9.6" font-weight="bold" text-anchor="start" fill="#111" stroke="#111" stroke-width="0.3">95%</text>
<rect x="1351.2" y="606.46" width="210.7" height="12" fill="url(#hb997300)"/>
<polygon points="1351.2,606.46 1355.2,610.46 1355.2,614.46 1351.2,618.46" fill="#8d6a00" opacity="0.8"/>
<polygon points="1561.9,606.46 1561.9,618.46 1557.9,614.46 1557.9,610.46" fill="#543f00" opacity="0.85"/>
<rect x="1560.1" y="606.46" width="1.8" height="12" fill="#221900"/>
<text x="1340.8" y="615.9" font-size="10.4" font-weight="bold" text-anchor="end" fill="#111" textLength="44.3" lengthAdjust="spacingAndGlyphs" stroke="#111" stroke-width="0.3">MCN0006</text>
<text x="1567.9" y="616.22" font-size="9.6" font-weight="bold" text-anchor="start" fill="#111" stroke="#111" stroke-width="0.3">93%</text>
<rect x="1351.2" y="644.9" width="147.8" height="12" fill="url(#hb264478)"/>
<polygon points="1351.2,644.9 1355.2,648.9 1355.2,652.9 1351.2,656.9" fill="#233f6e" opacity="0.8"/>
<polygon points="1499,644.9 1499,656.9 1495,652.9 1495,648.9" fill="#152542" opacity="0.85"/>
<rect x="1497.2" y="644.9" width="1.8" height="12" fill="#080f1a"/>
<text x="1340.8" y="654.34" font-size="10.4" font-weight="bold" text-anchor="end" fill="#111" textLength="44.3" lengthAdjust="spacingAndGlyphs" stroke="#111" stroke-width="0.3">MCN0019</text>
<text x="1505" y="654.66" font-size="9.6" font-weight="bold" text-anchor="start" fill="#111" stroke="#111" stroke-width="0.3">88%</text>
<rect x="1351.2" y="683.34" width="98.7" height="12" fill="url(#hb43682b)"/>
<polygon points="1351.2,683.34 1355.2,687.34 1355.2,691.34 1351.2,695.34" fill="#3e6028" opacity="0.8"/>
<polygon points="1449.9,683.34 1449.9,695.34 1445.9,691.34 1445.9,687.34" fill="#253918" opacity="0.85"/>
<rect x="1448.1" y="683.34" width="1.8" height="12" fill="#0f1709"/>
<text x="1340.8" y="692.78" font-size="10.4" font-weight="bold" text-anchor="end" fill="#111" textLength="44.3" lengthAdjust="spacingAndGlyphs" stroke="#111" stroke-width="0.3">MCN0018</text>
<text x="1455.9" y="693.1" font-size="9.6" font-weight="bold" text-anchor="start" fill="#111" stroke="#111" stroke-width="0.3">83%</text>
<text x="172.1" y="470.8" font-size="12.4" font-weight="bold" text-anchor="middle" fill="#111" textLength="181.4" lengthAdjust="spacingAndGlyphs" stroke="#111" stroke-width="0.31">Maint. Type wise Down Time</text>
<rect x="64" y="488.35" width="247.4" height="1.3" fill="rgba(170,190,188,0.30)"/>
<text x="50.9" y="492.06" font-size="8.5" font-weight="bold" text-anchor="end" fill="#111" stroke="#111" stroke-width="0.29">72:00</text>
<rect x="64" y="522.03" width="247.4" height="1.3" fill="rgba(170,190,188,0.30)"/>
<text x="50.9" y="525.74" font-size="8.5" font-weight="bold" text-anchor="end" fill="#111" stroke="#111" stroke-width="0.29">60:00</text>
<rect x="64" y="555.71" width="247.4" height="1.3" fill="rgba(170,190,188,0.30)"/>
<text x="50.9" y="559.42" font-size="8.5" font-weight="bold" text-anchor="end" fill="#111" stroke="#111" stroke-width="0.29">48:00</text>
<rect x="64" y="589.39" width="247.4" height="1.3" fill="rgba(170,190,188,0.30)"/>
<text x="50.9" y="593.1" font-size="8.5" font-weight="bold" text-anchor="end" fill="#111" stroke="#111" stroke-width="0.29">36:00</text>
<rect x="64" y="623.07" width="247.4" height="1.3" fill="rgba(170,190,188,0.30)"/>
<text x="50.9" y="626.78" font-size="8.5" font-weight="bold" text-anchor="end" fill="#111" stroke="#111" stroke-width="0.29">24:00</text>
<rect x="64" y="656.75" width="247.4" height="1.3" fill="rgba(170,190,188,0.30)"/>
<text x="50.9" y="660.46" font-size="8.5" font-weight="bold" text-anchor="end" fill="#111" stroke="#111" stroke-width="0.29">12:00</text>
<rect x="64" y="690.43" width="247.4" height="1.3" fill="rgba(170,190,188,0.30)"/>
<text x="50.9" y="694.14" font-size="8.5" font-weight="bold" text-anchor="end" fill="#111" stroke="#111" stroke-width="0.29">00:00</text>
<rect x="77" y="520.9" width="17" height="170.3" fill="url(#vb5b9bd5)"/>
<polygon points="78.5,521.9 92.5,521.9 88.9,526.4 82.1,526.4" fill="#99d9ff" opacity="0.9"/>
<rect x="77" y="520.9" width="17" height="1" fill="#4474a0" opacity="0.8"/>
<polygon points="77,691.2 94,691.2 90.26,687.6 80.74,687.6" fill="#2e4e6a" opacity="0.55"/>
<text x="85.5" y="513.07" font-size="8.8" font-weight="normal" text-anchor="middle" fill="#1c2428" stroke="#1c2428" stroke-width="0.3">60:47</text>
<rect x="127" y="599" width="17" height="92.2" fill="url(#vbed7d31)"/>
<polygon points="128.5,600 142.5,600 138.9,604.5 132.1,604.5" fill="#ffbb6f" opacity="0.9"/>
<rect x="127" y="599" width="17" height="1" fill="#b25e25" opacity="0.8"/>
<polygon points="127,691.2 144,691.2 140.26,687.6 130.74,687.6" fill="#763e18" opacity="0.55"/>
<text x="135.5" y="591.87" font-size="8.8" font-weight="normal" text-anchor="middle" fill="#1c2428" stroke="#1c2428" stroke-width="0.3">32:46</text>
<rect x="177" y="536" width="17" height="155.2" fill="url(#vba5a5a5)"/>
<polygon points="178.5,537 192.5,537 188.9,541.5 182.1,541.5" fill="#e3e3e3" opacity="0.9"/>
<rect x="177" y="536" width="17" height="1" fill="#7c7c7c" opacity="0.8"/>
<polygon points="177,691.2 194,691.2 190.26,687.6 180.74,687.6" fill="#525252" opacity="0.55"/>
<text x="185.5" y="528.97" font-size="8.8" font-weight="normal" text-anchor="middle" fill="#1c2428" stroke="#1c2428" stroke-width="0.3">55:10</text>
<rect x="226.8" y="562.7" width="16.4" height="128.5" fill="url(#vbffc000)"/>
<polygon points="228.3,563.7 241.7,563.7 238.28,568.2 231.72,568.2" fill="#fffe3e" opacity="0.9"/>
<rect x="226.8" y="562.7" width="16.4" height="1" fill="#bf9000" opacity="0.8"/>
<polygon points="226.8,691.2 243.2,691.2 239.59,687.6 230.41,687.6" fill="#806000" opacity="0.55"/>
<text x="235" y="555.97" font-size="8.8" font-weight="normal" text-anchor="middle" fill="#1c2428" stroke="#1c2428" stroke-width="0.3">45:30</text>
<text x="285" y="684.17" font-size="8.8" font-weight="normal" text-anchor="middle" fill="#1c2428" stroke="#1c2428" stroke-width="0.3">00:00</text>
<text x="85.4" y="707.17" font-size="8.8" font-weight="bold" text-anchor="middle" fill="#111" stroke="#111" stroke-width="0.29">BM</text>
<text x="135.6" y="707.17" font-size="8.8" font-weight="bold" text-anchor="middle" fill="#111" stroke="#111" stroke-width="0.29">CBM</text>
<text x="185.4" y="707.17" font-size="8.8" font-weight="bold" text-anchor="middle" fill="#111" stroke="#111" stroke-width="0.29">PM</text>
<text x="235" y="707.17" font-size="8.8" font-weight="bold" text-anchor="middle" fill="#111" stroke="#111" stroke-width="0.29">PS</text>
<text x="285" y="707.17" font-size="8.8" font-weight="bold" text-anchor="middle" fill="#111" stroke="#111" stroke-width="0.29">(blank)</text>
<text x="560.65" y="470.9" font-size="12.4" font-weight="bold" text-anchor="middle" fill="#111" textLength="137.1" lengthAdjust="spacingAndGlyphs" stroke="#111" stroke-width="0.31">Maint. Type wise Cost</text>
<rect x="381" y="488.25" width="394.8" height="1.3" fill="rgba(170,190,188,0.30)"/>
<text x="369.6" y="492.14" font-size="9" font-weight="bold" text-anchor="end" fill="#111" stroke="#111" stroke-width="0.29">140000</text>
<rect x="381" y="517.22" width="394.8" height="1.3" fill="rgba(170,190,188,0.30)"/>
<text x="369.6" y="521.11" font-size="9" font-weight="bold" text-anchor="end" fill="#111" stroke="#111" stroke-width="0.29">120000</text>
<rect x="381" y="546.19" width="394.8" height="1.3" fill="rgba(170,190,188,0.30)"/>
<text x="369.6" y="550.08" font-size="9" font-weight="bold" text-anchor="end" fill="#111" stroke="#111" stroke-width="0.29">100000</text>
<rect x="381" y="575.16" width="394.8" height="1.3" fill="rgba(170,190,188,0.30)"/>
<text x="369.6" y="579.05" font-size="9" font-weight="bold" text-anchor="end" fill="#111" stroke="#111" stroke-width="0.29">80000</text>
<rect x="381" y="604.13" width="394.8" height="1.3" fill="rgba(170,190,188,0.30)"/>
<text x="369.6" y="608.02" font-size="9" font-weight="bold" text-anchor="end" fill="#111" stroke="#111" stroke-width="0.29">60000</text>
<rect x="381" y="633.1" width="394.8" height="1.3" fill="rgba(170,190,188,0.30)"/>
<text x="369.6" y="636.99" font-size="9" font-weight="bold" text-anchor="end" fill="#111" stroke="#111" stroke-width="0.29">40000</text>
<rect x="381" y="662.07" width="394.8" height="1.3" fill="rgba(170,190,188,0.30)"/>
<text x="369.6" y="665.96" font-size="9" font-weight="bold" text-anchor="end" fill="#111" stroke="#111" stroke-width="0.29">20000</text>
<rect x="381" y="691.04" width="394.8" height="1.3" fill="rgba(170,190,188,0.30)"/>
<text x="369.6" y="694.93" font-size="9" font-weight="bold" text-anchor="end" fill="#111" stroke="#111" stroke-width="0.29">0</text>
<rect x="405" y="522.9" width="26" height="168.9" fill="url(#vb5b9bd5)"/>
<polygon points="406.5,523.9 429.5,523.9 423.2,528.4 412.8,528.4" fill="#99d9ff" opacity="0.9"/>
<rect x="405" y="522.9" width="26" height="1" fill="#4474a0" opacity="0.8"/>
<polygon points="405,691.8 431,691.8 425.28,688.2 410.72,688.2" fill="#2e4e6a" opacity="0.55"/>
<text x="418" y="514.87" font-size="8.8" font-weight="bold" text-anchor="middle" fill="#2a3638" stroke="#2a3638" stroke-width="0.29">116503</text>
<rect x="485" y="610" width="25.8" height="81.8" fill="url(#vbed7d31)"/>
<polygon points="486.5,611 509.3,611 503.06,615.5 492.74,615.5" fill="#ffbb6f" opacity="0.9"/>
<rect x="485" y="610" width="25.8" height="1" fill="#b25e25" opacity="0.8"/>
<polygon points="485,691.8 510.8,691.8 505.12,688.2 490.68,688.2" fill="#763e18" opacity="0.55"/>
<text x="497.9" y="602.87" font-size="8.8" font-weight="bold" text-anchor="middle" fill="#2a3638" stroke="#2a3638" stroke-width="0.29">56376</text>
<rect x="564.3" y="628.8" width="25.7" height="63" fill="url(#vba5a5a5)"/>
<polygon points="565.8,629.8 588.5,629.8 582.29,634.3 572.01,634.3" fill="#e3e3e3" opacity="0.9"/>
<rect x="564.3" y="628.8" width="25.7" height="1" fill="#7c7c7c" opacity="0.8"/>
<polygon points="564.3,691.8 590,691.8 584.35,688.2 569.95,688.2" fill="#525252" opacity="0.55"/>
<text x="577.15" y="621.97" font-size="8.8" font-weight="bold" text-anchor="middle" fill="#2a3638" stroke="#2a3638" stroke-width="0.29">43364</text>
<rect x="644" y="656.9" width="26" height="34.9" fill="url(#vbffc000)"/>
<polygon points="645.5,657.9 668.5,657.9 662.2,662.4 651.8,662.4" fill="#fffe3e" opacity="0.9"/>
<rect x="644" y="656.9" width="26" height="1" fill="#bf9000" opacity="0.8"/>
<polygon points="644,691.8 670,691.8 664.28,688.2 649.72,688.2" fill="#806000" opacity="0.55"/>
<text x="657" y="649.77" font-size="8.8" font-weight="bold" text-anchor="middle" fill="#2a3638" stroke="#2a3638" stroke-width="0.29">24129</text>
<text x="418" y="708.37" font-size="8.8" font-weight="bold" text-anchor="middle" fill="#111" stroke="#111" stroke-width="0.29">BM</text>
<text x="497.8" y="708.37" font-size="8.8" font-weight="bold" text-anchor="middle" fill="#111" stroke="#111" stroke-width="0.29">PM</text>
<text x="577.2" y="708.37" font-size="8.8" font-weight="bold" text-anchor="middle" fill="#111" stroke="#111" stroke-width="0.29">PS</text>
<text x="657" y="708.37" font-size="8.8" font-weight="bold" text-anchor="middle" fill="#111" stroke="#111" stroke-width="0.29">CBM</text>
<text x="736.5" y="708.37" font-size="8.8" font-weight="bold" text-anchor="middle" fill="#111" stroke="#111" stroke-width="0.29">(blank)</text>
<text x="560.85" y="752.8" font-size="12.8" font-weight="bold" text-anchor="middle" fill="#111" textLength="267.7" lengthAdjust="spacingAndGlyphs" stroke="#111" stroke-width="0.32">Machine Wise No. of Maint. Activity Count</text>
<rect x="405.15" y="798.2" width="1.1" height="512.2" fill="rgba(188,194,186,0.34)"/>
<text x="405.7" y="787.56" font-size="9.6" font-weight="bold" text-anchor="middle" fill="#111" stroke="#111" stroke-width="0.3">0</text>
<rect x="465.52" y="798.2" width="1.1" height="512.2" fill="rgba(188,194,186,0.34)"/>
<text x="466.07" y="787.56" font-size="9.6" font-weight="bold" text-anchor="middle" fill="#111" stroke="#111" stroke-width="0.3">5</text>
<rect x="525.89" y="798.2" width="1.1" height="512.2" fill="rgba(188,194,186,0.34)"/>
<text x="526.44" y="787.56" font-size="9.6" font-weight="bold" text-anchor="middle" fill="#111" stroke="#111" stroke-width="0.3">10</text>
<rect x="586.26" y="798.2" width="1.1" height="512.2" fill="rgba(188,194,186,0.34)"/>
<text x="586.81" y="787.56" font-size="9.6" font-weight="bold" text-anchor="middle" fill="#111" stroke="#111" stroke-width="0.3">15</text>
<rect x="646.63" y="798.2" width="1.1" height="512.2" fill="rgba(188,194,186,0.34)"/>
<text x="647.18" y="787.56" font-size="9.6" font-weight="bold" text-anchor="middle" fill="#111" stroke="#111" stroke-width="0.3">20</text>
<rect x="707" y="798.2" width="1.1" height="512.2" fill="rgba(188,194,186,0.34)"/>
<text x="707.55" y="787.56" font-size="9.6" font-weight="bold" text-anchor="middle" fill="#111" stroke="#111" stroke-width="0.3">25</text>
<rect x="767.37" y="798.2" width="1.1" height="512.2" fill="rgba(188,194,186,0.34)"/>
<text x="767.92" y="787.56" font-size="9.6" font-weight="bold" text-anchor="middle" fill="#111" stroke="#111" stroke-width="0.3">30</text>
<rect x="406" y="812.7" width="314" height="13" fill="url(#hb5b9bd5)"/>
<polygon points="406,812.7 410.33,817.03 410.33,821.37 406,825.7" fill="#548fc4" opacity="0.8"/>
<polygon points="720,812.7 720,825.7 715.67,821.37 715.67,817.03" fill="#325575" opacity="0.85"/>
<rect x="718.2" y="812.7" width="1.8" height="13" fill="#14222f"/>
<text x="396.9" y="822.34" font-size="9" font-weight="bold" text-anchor="end" fill="#111" textLength="39.7" lengthAdjust="spacingAndGlyphs" stroke="#111" stroke-width="0.29">MCN0001</text>
<text x="726.5" y="823.03" font-size="9.8" font-weight="bold" text-anchor="start" fill="#111" stroke="#111" stroke-width="0.3">26</text>
<rect x="406" y="855.34" width="301.7" height="13" fill="url(#hbed7d31)"/>
<polygon points="406,855.34 410.33,859.67 410.33,864.01 406,868.34" fill="#da732d" opacity="0.8"/>
<polygon points="707.7,855.34 707.7,868.34 703.37,864.01 703.37,859.67" fill="#82451b" opacity="0.85"/>
<rect x="705.9" y="855.34" width="1.8" height="13" fill="#341c0b"/>
<text x="396.9" y="864.98" font-size="9" font-weight="bold" text-anchor="end" fill="#111" textLength="39.7" lengthAdjust="spacingAndGlyphs" stroke="#111" stroke-width="0.29">MCN0006</text>
<text x="714.2" y="865.67" font-size="9.8" font-weight="bold" text-anchor="start" fill="#111" stroke="#111" stroke-width="0.3">25</text>
<rect x="406" y="897.98" width="266" height="13" fill="url(#hba5a5a5)"/>
<polygon points="406,897.98 410.33,902.31 410.33,906.65 406,910.98" fill="#989898" opacity="0.8"/>
<polygon points="672,897.98 672,910.98 667.67,906.65 667.67,902.31" fill="#5b5b5b" opacity="0.85"/>
<rect x="670.2" y="897.98" width="1.8" height="13" fill="#242424"/>
<text x="396.9" y="907.62" font-size="9" font-weight="bold" text-anchor="end" fill="#111" textLength="39.7" lengthAdjust="spacingAndGlyphs" stroke="#111" stroke-width="0.29">MCN0009</text>
<text x="678.5" y="908.31" font-size="9.8" font-weight="bold" text-anchor="start" fill="#111" stroke="#111" stroke-width="0.3">22</text>
<rect x="406" y="940.62" width="229.6" height="13" fill="url(#hbffc000)"/>
<polygon points="406,940.62 410.33,944.95 410.33,949.29 406,953.62" fill="#ebb100" opacity="0.8"/>
<polygon points="635.6,940.62 635.6,953.62 631.27,949.29 631.27,944.95" fill="#8c6a00" opacity="0.85"/>
<rect x="633.8" y="940.62" width="1.8" height="13" fill="#382a00"/>
<text x="396.9" y="950.26" font-size="9" font-weight="bold" text-anchor="end" fill="#111" textLength="39.7" lengthAdjust="spacingAndGlyphs" stroke="#111" stroke-width="0.29">MCN0010</text>
<text x="642.1" y="950.95" font-size="9.8" font-weight="bold" text-anchor="start" fill="#111" stroke="#111" stroke-width="0.3">19</text>
<rect x="406" y="983.26" width="192.7" height="13" fill="url(#hb4472c4)"/>
<polygon points="406,983.26 410.33,987.59 410.33,991.93 406,996.26" fill="#3f69b4" opacity="0.8"/>
<polygon points="598.7,983.26 598.7,996.26 594.37,991.93 594.37,987.59" fill="#253f6c" opacity="0.85"/>
<rect x="596.9" y="983.26" width="1.8" height="13" fill="#0f192b"/>
<text x="396.9" y="992.9" font-size="9" font-weight="bold" text-anchor="end" fill="#111" textLength="39.7" lengthAdjust="spacingAndGlyphs" stroke="#111" stroke-width="0.29">MCN0007</text>
<text x="605.2" y="993.59" font-size="9.8" font-weight="bold" text-anchor="start" fill="#111" stroke="#111" stroke-width="0.3">16</text>
<rect x="406" y="1025.9" width="192.7" height="13" fill="url(#hb70ad47)"/>
<polygon points="406,1025.9 410.33,1030.23 410.33,1034.57 406,1038.9" fill="#679f41" opacity="0.8"/>
<polygon points="598.7,1025.9 598.7,1038.9 594.37,1034.57 594.37,1030.23" fill="#3e5f27" opacity="0.85"/>
<rect x="596.9" y="1025.9" width="1.8" height="13" fill="#192610"/>
<text x="396.9" y="1035.54" font-size="9" font-weight="bold" text-anchor="end" fill="#111" textLength="39.7" lengthAdjust="spacingAndGlyphs" stroke="#111" stroke-width="0.29">MCN0003</text>
<text x="605.2" y="1036.23" font-size="9.8" font-weight="bold" text-anchor="start" fill="#111" stroke="#111" stroke-width="0.3">16</text>
<rect x="406" y="1068.54" width="180.6" height="13" fill="url(#hb255e91)"/>
<polygon points="406,1068.54 410.33,1072.87 410.33,1077.21 406,1081.54" fill="#225685" opacity="0.8"/>
<polygon points="586.6,1068.54 586.6,1081.54 582.27,1077.21 582.27,1072.87" fill="#143450" opacity="0.85"/>
<rect x="584.8" y="1068.54" width="1.8" height="13" fill="#081520"/>
<text x="396.9" y="1078.18" font-size="9" font-weight="bold" text-anchor="end" fill="#111" textLength="39.7" lengthAdjust="spacingAndGlyphs" stroke="#111" stroke-width="0.29">MCN0004</text>
<text x="593.1" y="1078.87" font-size="9.8" font-weight="bold" text-anchor="start" fill="#111" stroke="#111" stroke-width="0.3">15</text>
<rect x="406" y="1111.18" width="157" height="13" fill="url(#hb9e480e)"/>
<polygon points="406,1111.18 410.33,1115.51 410.33,1119.85 406,1124.18" fill="#91420d" opacity="0.8"/>
<polygon points="563,1111.18 563,1124.18 558.67,1119.85 558.67,1115.51" fill="#572808" opacity="0.85"/>
<rect x="561.2" y="1111.18" width="1.8" height="13" fill="#231003"/>
<text x="396.9" y="1120.82" font-size="9" font-weight="bold" text-anchor="end" fill="#111" textLength="39.7" lengthAdjust="spacingAndGlyphs" stroke="#111" stroke-width="0.29">MCN0008</text>
<text x="569.5" y="1121.51" font-size="9.8" font-weight="bold" text-anchor="start" fill="#111" stroke="#111" stroke-width="0.3">13</text>
<rect x="406" y="1153.82" width="132.8" height="13" fill="url(#hb636363)"/>
<polygon points="406,1153.82 410.33,1158.15 410.33,1162.49 406,1166.82" fill="#5b5b5b" opacity="0.8"/>
<polygon points="538.8,1153.82 538.8,1166.82 534.47,1162.49 534.47,1158.15" fill="#363636" opacity="0.85"/>
<rect x="537" y="1153.82" width="1.8" height="13" fill="#161616"/>
<text x="396.9" y="1163.46" font-size="9" font-weight="bold" text-anchor="end" fill="#111" textLength="39.7" lengthAdjust="spacingAndGlyphs" stroke="#111" stroke-width="0.29">MCN0002</text>
<text x="545.3" y="1164.15" font-size="9.8" font-weight="bold" text-anchor="start" fill="#111" stroke="#111" stroke-width="0.3">11</text>
<rect x="406" y="1196.46" width="120.5" height="13" fill="url(#hb997300)"/>
<polygon points="406,1196.46 410.33,1200.79 410.33,1205.13 406,1209.46" fill="#8d6a00" opacity="0.8"/>
<polygon points="526.5,1196.46 526.5,1209.46 522.17,1205.13 522.17,1200.79" fill="#543f00" opacity="0.85"/>
<rect x="524.7" y="1196.46" width="1.8" height="13" fill="#221900"/>
<text x="396.9" y="1206.1" font-size="9" font-weight="bold" text-anchor="end" fill="#111" textLength="39.7" lengthAdjust="spacingAndGlyphs" stroke="#111" stroke-width="0.29">MCN0005</text>
<text x="533" y="1206.79" font-size="9.8" font-weight="bold" text-anchor="start" fill="#111" stroke="#111" stroke-width="0.3">10</text>
<rect x="406" y="1239.1" width="35.8" height="13" fill="url(#hb264478)"/>
<polygon points="406,1239.1 410.33,1243.43 410.33,1247.77 406,1252.1" fill="#233f6e" opacity="0.8"/>
<polygon points="441.8,1239.1 441.8,1252.1 437.47,1247.77 437.47,1243.43" fill="#152542" opacity="0.85"/>
<rect x="440" y="1239.1" width="1.8" height="13" fill="#080f1a"/>
<text x="396.9" y="1248.74" font-size="9" font-weight="bold" text-anchor="end" fill="#111" textLength="39.7" lengthAdjust="spacingAndGlyphs" stroke="#111" stroke-width="0.29">MCN0019</text>
<text x="448.3" y="1249.43" font-size="9.8" font-weight="bold" text-anchor="start" fill="#111" stroke="#111" stroke-width="0.3">3</text>
<rect x="406" y="1281.74" width="35.8" height="13" fill="url(#hb43682b)"/>
<polygon points="406,1281.74 410.33,1286.07 410.33,1290.41 406,1294.74" fill="#3e6028" opacity="0.8"/>
<polygon points="441.8,1281.74 441.8,1294.74 437.47,1290.41 437.47,1286.07" fill="#253918" opacity="0.85"/>
<rect x="440" y="1281.74" width="1.8" height="13" fill="#0f1709"/>
<text x="396.9" y="1291.38" font-size="9" font-weight="bold" text-anchor="end" fill="#111" textLength="39.7" lengthAdjust="spacingAndGlyphs" stroke="#111" stroke-width="0.29">MCN0018</text>
<text x="448.3" y="1292.07" font-size="9.8" font-weight="bold" text-anchor="start" fill="#111" stroke="#111" stroke-width="0.3">3</text>
<text x="1020.15" y="754.8" font-size="12.8" font-weight="bold" text-anchor="middle" fill="#111" textLength="225.7" lengthAdjust="spacingAndGlyphs" stroke="#111" stroke-width="0.32">Machine Wise Down Time (HH:MM)</text>
<rect x="916.85" y="808.8" width="1.1" height="498" fill="rgba(188,194,186,0.34)"/>
<text x="917.4" y="799.06" font-size="8.5" font-weight="bold" text-anchor="middle" fill="#111" stroke="#111" stroke-width="0.29">00:00</text>
<rect x="958.06" y="808.8" width="1.1" height="498" fill="rgba(188,194,186,0.34)"/>
<text x="958.61" y="799.06" font-size="8.5" font-weight="bold" text-anchor="middle" fill="#111" stroke="#111" stroke-width="0.29">04:48</text>
<rect x="999.27" y="808.8" width="1.1" height="498" fill="rgba(188,194,186,0.34)"/>
<text x="999.82" y="799.06" font-size="8.5" font-weight="bold" text-anchor="middle" fill="#111" stroke="#111" stroke-width="0.29">09:36</text>
<rect x="1040.48" y="808.8" width="1.1" height="498" fill="rgba(188,194,186,0.34)"/>
<text x="1041.03" y="799.06" font-size="8.5" font-weight="bold" text-anchor="middle" fill="#111" stroke="#111" stroke-width="0.29">14:24</text>
<rect x="1081.69" y="808.8" width="1.1" height="498" fill="rgba(188,194,186,0.34)"/>
<text x="1082.24" y="799.06" font-size="8.5" font-weight="bold" text-anchor="middle" fill="#111" stroke="#111" stroke-width="0.29">19:12</text>
<rect x="1122.9" y="808.8" width="1.1" height="498" fill="rgba(188,194,186,0.34)"/>
<text x="1123.45" y="799.06" font-size="8.5" font-weight="bold" text-anchor="middle" fill="#111" stroke="#111" stroke-width="0.29">24:00</text>
<rect x="1164.11" y="808.8" width="1.1" height="498" fill="rgba(188,194,186,0.34)"/>
<text x="1164.66" y="799.06" font-size="8.5" font-weight="bold" text-anchor="middle" fill="#111" stroke="#111" stroke-width="0.29">28:48</text>
<rect x="1205.32" y="808.8" width="1.1" height="498" fill="rgba(188,194,186,0.34)"/>
<text x="1205.87" y="799.06" font-size="8.5" font-weight="bold" text-anchor="middle" fill="#111" stroke="#111" stroke-width="0.29">33:36</text>
<rect x="918" y="823.35" width="252" height="12.5" fill="url(#hb5b9bd5)"/>
<polygon points="918,823.35 922.17,827.52 922.17,831.68 918,835.85" fill="#548fc4" opacity="0.8"/>
<polygon points="1170,823.35 1170,835.85 1165.83,831.68 1165.83,827.52" fill="#325575" opacity="0.85"/>
<rect x="1168.2" y="823.35" width="1.8" height="12.5" fill="#14222f"/>
<text x="908.9" y="832.34" font-size="9" font-weight="bold" text-anchor="end" fill="#111" textLength="40" lengthAdjust="spacingAndGlyphs" stroke="#111" stroke-width="0.29">MCN0006</text>
<text x="1176.5" y="832.96" font-size="8.5" font-weight="bold" text-anchor="start" fill="#111" stroke="#111" stroke-width="0.29">29:23</text>
<rect x="918" y="864.79" width="240.8" height="12.5" fill="url(#hbed7d31)"/>
<polygon points="918,864.79 922.17,868.96 922.17,873.12 918,877.29" fill="#da732d" opacity="0.8"/>
<polygon points="1158.8,864.79 1158.8,877.29 1154.63,873.12 1154.63,868.96" fill="#82451b" opacity="0.85"/>
<rect x="1157" y="864.79" width="1.8" height="12.5" fill="#341c0b"/>
<text x="908.9" y="873.78" font-size="9" font-weight="bold" text-anchor="end" fill="#111" textLength="40" lengthAdjust="spacingAndGlyphs" stroke="#111" stroke-width="0.29">MCN0001</text>
<text x="1165.3" y="874.4" font-size="8.5" font-weight="bold" text-anchor="start" fill="#111" stroke="#111" stroke-width="0.29">28:01</text>
<rect x="918" y="906.23" width="231" height="12.5" fill="url(#hba5a5a5)"/>
<polygon points="918,906.23 922.17,910.4 922.17,914.56 918,918.73" fill="#989898" opacity="0.8"/>
<polygon points="1149,906.23 1149,918.73 1144.83,914.56 1144.83,910.4" fill="#5b5b5b" opacity="0.85"/>
<rect x="1147.2" y="906.23" width="1.8" height="12.5" fill="#242424"/>
<text x="908.9" y="915.22" font-size="9" font-weight="bold" text-anchor="end" fill="#111" textLength="40" lengthAdjust="spacingAndGlyphs" stroke="#111" stroke-width="0.29">MCN0009</text>
<text x="1155.5" y="915.84" font-size="8.5" font-weight="bold" text-anchor="start" fill="#111" stroke="#111" stroke-width="0.29">26:56</text>
<rect x="918" y="947.67" width="167.8" height="12.5" fill="url(#hbffc000)"/>
<polygon points="918,947.67 922.17,951.84 922.17,956 918,960.17" fill="#ebb100" opacity="0.8"/>
<polygon points="1085.8,947.67 1085.8,960.17 1081.63,956 1081.63,951.84" fill="#8c6a00" opacity="0.85"/>
<rect x="1084" y="947.67" width="1.8" height="12.5" fill="#382a00"/>
<text x="908.9" y="956.66" font-size="9" font-weight="bold" text-anchor="end" fill="#111" textLength="40" lengthAdjust="spacingAndGlyphs" stroke="#111" stroke-width="0.29">MCN0003</text>
<text x="1092.3" y="957.28" font-size="8.5" font-weight="bold" text-anchor="start" fill="#111" stroke="#111" stroke-width="0.29">19:34</text>
<rect x="918" y="989.11" width="164.1" height="12.5" fill="url(#hb4472c4)"/>
<polygon points="918,989.11 922.17,993.28 922.17,997.44 918,1001.61" fill="#3f69b4" opacity="0.8"/>
<polygon points="1082.1,989.11 1082.1,1001.61 1077.93,997.44 1077.93,993.28" fill="#253f6c" opacity="0.85"/>
<rect x="1080.3" y="989.11" width="1.8" height="12.5" fill="#0f192b"/>
<text x="908.9" y="998.1" font-size="9" font-weight="bold" text-anchor="end" fill="#111" textLength="40" lengthAdjust="spacingAndGlyphs" stroke="#111" stroke-width="0.29">MCN0010</text>
<text x="1088.6" y="998.72" font-size="8.5" font-weight="bold" text-anchor="start" fill="#111" stroke="#111" stroke-width="0.29">19:06</text>
<rect x="918" y="1030.55" width="128.7" height="12.5" fill="url(#hb70ad47)"/>
<polygon points="918,1030.55 922.17,1034.72 922.17,1038.88 918,1043.05" fill="#679f41" opacity="0.8"/>
<polygon points="1046.7,1030.55 1046.7,1043.05 1042.53,1038.88 1042.53,1034.72" fill="#3e5f27" opacity="0.85"/>
<rect x="1044.9" y="1030.55" width="1.8" height="12.5" fill="#192610"/>
<text x="908.9" y="1039.54" font-size="9" font-weight="bold" text-anchor="end" fill="#111" textLength="40" lengthAdjust="spacingAndGlyphs" stroke="#111" stroke-width="0.29">MCN0007</text>
<text x="1053.2" y="1040.16" font-size="8.5" font-weight="bold" text-anchor="start" fill="#111" stroke="#111" stroke-width="0.29">14:59</text>
<rect x="918" y="1071.99" width="122.4" height="12.5" fill="url(#hb255e91)"/>
<polygon points="918,1071.99 922.17,1076.16 922.17,1080.32 918,1084.49" fill="#225685" opacity="0.8"/>
<polygon points="1040.4,1071.99 1040.4,1084.49 1036.23,1080.32 1036.23,1076.16" fill="#143450" opacity="0.85"/>
<rect x="1038.6" y="1071.99" width="1.8" height="12.5" fill="#081520"/>
<text x="908.9" y="1080.98" font-size="9" font-weight="bold" text-anchor="end" fill="#111" textLength="40" lengthAdjust="spacingAndGlyphs" stroke="#111" stroke-width="0.29">MCN0004</text>
<text x="1046.9" y="1081.6" font-size="8.5" font-weight="bold" text-anchor="start" fill="#111" stroke="#111" stroke-width="0.29">14:16</text>
<rect x="918" y="1113.43" width="116.5" height="12.5" fill="url(#hb9e480e)"/>
<polygon points="918,1113.43 922.17,1117.6 922.17,1121.76 918,1125.93" fill="#91420d" opacity="0.8"/>
<polygon points="1034.5,1113.43 1034.5,1125.93 1030.33,1121.76 1030.33,1117.6" fill="#572808" opacity="0.85"/>
<rect x="1032.7" y="1113.43" width="1.8" height="12.5" fill="#231003"/>
<text x="908.9" y="1122.42" font-size="9" font-weight="bold" text-anchor="end" fill="#111" textLength="40" lengthAdjust="spacingAndGlyphs" stroke="#111" stroke-width="0.29">MCN0008</text>
<text x="1041" y="1123.04" font-size="8.5" font-weight="bold" text-anchor="start" fill="#111" stroke="#111" stroke-width="0.29">13:35</text>
<rect x="918" y="1154.87" width="95.8" height="12.5" fill="url(#hb636363)"/>
<polygon points="918,1154.87 922.17,1159.04 922.17,1163.2 918,1167.37" fill="#5b5b5b" opacity="0.8"/>
<polygon points="1013.8,1154.87 1013.8,1167.37 1009.63,1163.2 1009.63,1159.04" fill="#363636" opacity="0.85"/>
<rect x="1012" y="1154.87" width="1.8" height="12.5" fill="#161616"/>
<text x="908.9" y="1163.86" font-size="9" font-weight="bold" text-anchor="end" fill="#111" textLength="40" lengthAdjust="spacingAndGlyphs" stroke="#111" stroke-width="0.29">MCN0002</text>
<text x="1020.3" y="1164.48" font-size="8.5" font-weight="bold" text-anchor="start" fill="#111" stroke="#111" stroke-width="0.29">11:10</text>
<rect x="918" y="1196.31" width="87.8" height="12.5" fill="url(#hb997300)"/>
<polygon points="918,1196.31 922.17,1200.48 922.17,1204.64 918,1208.81" fill="#8d6a00" opacity="0.8"/>
<polygon points="1005.8,1196.31 1005.8,1208.81 1001.63,1204.64 1001.63,1200.48" fill="#543f00" opacity="0.85"/>
<rect x="1004" y="1196.31" width="1.8" height="12.5" fill="#221900"/>
<text x="908.9" y="1205.3" font-size="9" font-weight="bold" text-anchor="end" fill="#111" textLength="40" lengthAdjust="spacingAndGlyphs" stroke="#111" stroke-width="0.29">MCN0005</text>
<text x="1012.3" y="1205.92" font-size="8.5" font-weight="bold" text-anchor="start" fill="#111" stroke="#111" stroke-width="0.29">10:13</text>
<rect x="918" y="1237.75" width="34" height="12.5" fill="url(#hb264478)"/>
<polygon points="918,1237.75 922.17,1241.92 922.17,1246.08 918,1250.25" fill="#233f6e" opacity="0.8"/>
<polygon points="952,1237.75 952,1250.25 947.83,1246.08 947.83,1241.92" fill="#152542" opacity="0.85"/>
<rect x="950.2" y="1237.75" width="1.8" height="12.5" fill="#080f1a"/>
<text x="908.9" y="1246.74" font-size="9" font-weight="bold" text-anchor="end" fill="#111" textLength="40" lengthAdjust="spacingAndGlyphs" stroke="#111" stroke-width="0.29">MCN0018</text>
<text x="958.5" y="1247.36" font-size="8.5" font-weight="bold" text-anchor="start" fill="#111" stroke="#111" stroke-width="0.29">04:00</text>
<rect x="918" y="1279.19" width="26" height="12.5" fill="url(#hb43682b)"/>
<polygon points="918,1279.19 922.17,1283.36 922.17,1287.52 918,1291.69" fill="#3e6028" opacity="0.8"/>
<polygon points="944,1279.19 944,1291.69 939.83,1287.52 939.83,1283.36" fill="#253918" opacity="0.85"/>
<rect x="942.2" y="1279.19" width="1.8" height="12.5" fill="#0f1709"/>
<text x="908.9" y="1288.18" font-size="9" font-weight="bold" text-anchor="end" fill="#111" textLength="40" lengthAdjust="spacingAndGlyphs" stroke="#111" stroke-width="0.29">MCN0019</text>
<text x="950.5" y="1288.8" font-size="8.5" font-weight="bold" text-anchor="start" fill="#111" stroke="#111" stroke-width="0.29">03:00</text>
<text x="1459.5" y="754.8" font-size="12.8" font-weight="bold" text-anchor="middle" fill="#111" textLength="205.4" lengthAdjust="spacingAndGlyphs" stroke="#111" stroke-width="0.32">Machine Wise Maintenance Cost</text>
<rect x="1325.05" y="812.5" width="1.1" height="513.5" fill="rgba(188,194,186,0.34)"/>
<text x="1325.6" y="803.24" font-size="9" font-weight="bold" text-anchor="middle" fill="#111" stroke="#111" stroke-width="0.29">0</text>
<rect x="1376.1" y="812.5" width="1.1" height="513.5" fill="rgba(188,194,186,0.34)"/>
<text x="1376.65" y="803.24" font-size="9" font-weight="bold" text-anchor="middle" fill="#111" stroke="#111" stroke-width="0.29">10000</text>
<rect x="1427.15" y="812.5" width="1.1" height="513.5" fill="rgba(188,194,186,0.34)"/>
<text x="1427.7" y="803.24" font-size="9" font-weight="bold" text-anchor="middle" fill="#111" stroke="#111" stroke-width="0.29">20000</text>
<rect x="1478.2" y="812.5" width="1.1" height="513.5" fill="rgba(188,194,186,0.34)"/>
<text x="1478.75" y="803.24" font-size="9" font-weight="bold" text-anchor="middle" fill="#111" stroke="#111" stroke-width="0.29">30000</text>
<rect x="1529.25" y="812.5" width="1.1" height="513.5" fill="rgba(188,194,186,0.34)"/>
<text x="1529.8" y="803.24" font-size="9" font-weight="bold" text-anchor="middle" fill="#111" stroke="#111" stroke-width="0.29">40000</text>
<rect x="1580.3" y="812.5" width="1.1" height="513.5" fill="rgba(188,194,186,0.34)"/>
<text x="1580.85" y="803.24" font-size="9" font-weight="bold" text-anchor="middle" fill="#111" stroke="#111" stroke-width="0.29">50000</text>
<rect x="1631.35" y="812.5" width="1.1" height="513.5" fill="rgba(188,194,186,0.34)"/>
<text x="1631.9" y="803.24" font-size="9" font-weight="bold" text-anchor="middle" fill="#111" stroke="#111" stroke-width="0.29">60000</text>
<rect x="1326.2" y="827.1" width="285.8" height="15" fill="url(#hb5b9bd5)"/>
<polygon points="1326.2,827.1 1331.2,832.1 1331.2,837.1 1326.2,842.1" fill="#548fc4" opacity="0.8"/>
<polygon points="1612,827.1 1612,842.1 1607,837.1 1607,832.1" fill="#325575" opacity="0.85"/>
<rect x="1610.2" y="827.1" width="1.8" height="15" fill="#14222f"/>
<text x="1317" y="837.04" font-size="9" font-weight="bold" text-anchor="end" fill="#111" textLength="40" lengthAdjust="spacingAndGlyphs" stroke="#111" stroke-width="0.29">MCN0006</text>
<text x="1618.5" y="838.14" font-size="9" font-weight="bold" text-anchor="start" fill="#111" stroke="#111" stroke-width="0.29">55994</text>
<rect x="1326.2" y="869.74" width="271.6" height="15" fill="url(#hbed7d31)"/>
<polygon points="1326.2,869.74 1331.2,874.74 1331.2,879.74 1326.2,884.74" fill="#da732d" opacity="0.8"/>
<polygon points="1597.8,869.74 1597.8,884.74 1592.8,879.74 1592.8,874.74" fill="#82451b" opacity="0.85"/>
<rect x="1596" y="869.74" width="1.8" height="15" fill="#341c0b"/>
<text x="1317" y="879.68" font-size="9" font-weight="bold" text-anchor="end" fill="#111" textLength="40" lengthAdjust="spacingAndGlyphs" stroke="#111" stroke-width="0.29">MCN0001</text>
<text x="1604.3" y="880.78" font-size="9" font-weight="bold" text-anchor="start" fill="#111" stroke="#111" stroke-width="0.29">53281</text>
<rect x="1326.2" y="912.38" width="255.7" height="15" fill="url(#hba5a5a5)"/>
<polygon points="1326.2,912.38 1331.2,917.38 1331.2,922.38 1326.2,927.38" fill="#989898" opacity="0.8"/>
<polygon points="1581.9,912.38 1581.9,927.38 1576.9,922.38 1576.9,917.38" fill="#5b5b5b" opacity="0.85"/>
<rect x="1580.1" y="912.38" width="1.8" height="15" fill="#242424"/>
<text x="1317" y="922.32" font-size="9" font-weight="bold" text-anchor="end" fill="#111" textLength="40" lengthAdjust="spacingAndGlyphs" stroke="#111" stroke-width="0.29">MCN0019</text>
<text x="1588.4" y="923.42" font-size="9" font-weight="bold" text-anchor="start" fill="#111" stroke="#111" stroke-width="0.29">50200</text>
<rect x="1326.2" y="955.02" width="69.7" height="15" fill="url(#hbffc000)"/>
<polygon points="1326.2,955.02 1331.2,960.02 1331.2,965.02 1326.2,970.02" fill="#ebb100" opacity="0.8"/>
<polygon points="1395.9,955.02 1395.9,970.02 1390.9,965.02 1390.9,960.02" fill="#8c6a00" opacity="0.85"/>
<rect x="1394.1" y="955.02" width="1.8" height="15" fill="#382a00"/>
<text x="1317" y="964.96" font-size="9" font-weight="bold" text-anchor="end" fill="#111" textLength="40" lengthAdjust="spacingAndGlyphs" stroke="#111" stroke-width="0.29">MCN0004</text>
<text x="1402.4" y="966.06" font-size="9" font-weight="bold" text-anchor="start" fill="#111" stroke="#111" stroke-width="0.29">13733</text>
<rect x="1326.2" y="997.66" width="66.7" height="15" fill="url(#hb4472c4)"/>
<polygon points="1326.2,997.66 1331.2,1002.66 1331.2,1007.66 1326.2,1012.66" fill="#3f69b4" opacity="0.8"/>
<polygon points="1392.9,997.66 1392.9,1012.66 1387.9,1007.66 1387.9,1002.66" fill="#253f6c" opacity="0.85"/>
<rect x="1391.1" y="997.66" width="1.8" height="15" fill="#0f192b"/>
<text x="1317" y="1007.6" font-size="9" font-weight="bold" text-anchor="end" fill="#111" textLength="40" lengthAdjust="spacingAndGlyphs" stroke="#111" stroke-width="0.29">MCN0009</text>
<text x="1399.4" y="1008.7" font-size="9" font-weight="bold" text-anchor="start" fill="#111" stroke="#111" stroke-width="0.29">13119</text>
<rect x="1326.2" y="1040.3" width="57.4" height="15" fill="url(#hb70ad47)"/>
<polygon points="1326.2,1040.3 1331.2,1045.3 1331.2,1050.3 1326.2,1055.3" fill="#679f41" opacity="0.8"/>
<polygon points="1383.6,1040.3 1383.6,1055.3 1378.6,1050.3 1378.6,1045.3" fill="#3e5f27" opacity="0.85"/>
<rect x="1381.8" y="1040.3" width="1.8" height="15" fill="#192610"/>
<text x="1317" y="1050.24" font-size="9" font-weight="bold" text-anchor="end" fill="#111" textLength="40" lengthAdjust="spacingAndGlyphs" stroke="#111" stroke-width="0.29">MCN0010</text>
<text x="1390.1" y="1051.34" font-size="9" font-weight="bold" text-anchor="start" fill="#111" stroke="#111" stroke-width="0.29">11283</text>
<rect x="1326.2" y="1082.94" width="46.2" height="15" fill="url(#hb255e91)"/>
<polygon points="1326.2,1082.94 1331.2,1087.94 1331.2,1092.94 1326.2,1097.94" fill="#225685" opacity="0.8"/>
<polygon points="1372.4,1082.94 1372.4,1097.94 1367.4,1092.94 1367.4,1087.94" fill="#143450" opacity="0.85"/>
<rect x="1370.6" y="1082.94" width="1.8" height="15" fill="#081520"/>
<text x="1317" y="1092.88" font-size="9" font-weight="bold" text-anchor="end" fill="#111" textLength="40" lengthAdjust="spacingAndGlyphs" stroke="#111" stroke-width="0.29">MCN0003</text>
<text x="1378.9" y="1093.98" font-size="9" font-weight="bold" text-anchor="start" fill="#111" stroke="#111" stroke-width="0.29">9110</text>
<rect x="1326.2" y="1125.58" width="41.4" height="15" fill="url(#hb9e480e)"/>
<polygon points="1326.2,1125.58 1331.2,1130.58 1331.2,1135.58 1326.2,1140.58" fill="#91420d" opacity="0.8"/>
<polygon points="1367.6,1125.58 1367.6,1140.58 1362.6,1135.58 1362.6,1130.58" fill="#572808" opacity="0.85"/>
<rect x="1365.8" y="1125.58" width="1.8" height="15" fill="#231003"/>
<text x="1317" y="1135.52" font-size="9" font-weight="bold" text-anchor="end" fill="#111" textLength="40" lengthAdjust="spacingAndGlyphs" stroke="#111" stroke-width="0.29">MCN0008</text>
<text x="1374.1" y="1136.62" font-size="9" font-weight="bold" text-anchor="start" fill="#111" stroke="#111" stroke-width="0.29">8217</text>
<rect x="1326.2" y="1168.22" width="38.7" height="15" fill="url(#hb636363)"/>
<polygon points="1326.2,1168.22 1331.2,1173.22 1331.2,1178.22 1326.2,1183.22" fill="#5b5b5b" opacity="0.8"/>
<polygon points="1364.9,1168.22 1364.9,1183.22 1359.9,1178.22 1359.9,1173.22" fill="#363636" opacity="0.85"/>
<rect x="1363.1" y="1168.22" width="1.8" height="15" fill="#161616"/>
<text x="1317" y="1178.16" font-size="9" font-weight="bold" text-anchor="end" fill="#111" textLength="40" lengthAdjust="spacingAndGlyphs" stroke="#111" stroke-width="0.29">MCN0007</text>
<text x="1371.4" y="1179.26" font-size="9" font-weight="bold" text-anchor="start" fill="#111" stroke="#111" stroke-width="0.29">7641</text>
<rect x="1326.2" y="1210.86" width="32.3" height="15" fill="url(#hb997300)"/>
<polygon points="1326.2,1210.86 1331.2,1215.86 1331.2,1220.86 1326.2,1225.86" fill="#8d6a00" opacity="0.8"/>
<polygon points="1358.5,1210.86 1358.5,1225.86 1353.5,1220.86 1353.5,1215.86" fill="#543f00" opacity="0.85"/>
<rect x="1356.7" y="1210.86" width="1.8" height="15" fill="#221900"/>
<text x="1317" y="1220.8" font-size="9" font-weight="bold" text-anchor="end" fill="#111" textLength="40" lengthAdjust="spacingAndGlyphs" stroke="#111" stroke-width="0.29">MCN0002</text>
<text x="1365" y="1221.9" font-size="9" font-weight="bold" text-anchor="start" fill="#111" stroke="#111" stroke-width="0.29">6360</text>
<rect x="1326.2" y="1253.5" width="29.6" height="15" fill="url(#hb264478)"/>
<polygon points="1326.2,1253.5 1331.2,1258.5 1331.2,1263.5 1326.2,1268.5" fill="#233f6e" opacity="0.8"/>
<polygon points="1355.8,1253.5 1355.8,1268.5 1350.8,1263.5 1350.8,1258.5" fill="#152542" opacity="0.85"/>
<rect x="1354" y="1253.5" width="1.8" height="15" fill="#080f1a"/>
<text x="1317" y="1263.44" font-size="9" font-weight="bold" text-anchor="end" fill="#111" textLength="40" lengthAdjust="spacingAndGlyphs" stroke="#111" stroke-width="0.29">MCN0005</text>
<text x="1362.3" y="1264.54" font-size="9" font-weight="bold" text-anchor="start" fill="#111" stroke="#111" stroke-width="0.29">5834</text>
<rect x="1326.2" y="1296.14" width="28.6" height="15" fill="url(#hb43682b)"/>
<polygon points="1326.2,1296.14 1331.2,1301.14 1331.2,1306.14 1326.2,1311.14" fill="#3e6028" opacity="0.8"/>
<polygon points="1354.8,1296.14 1354.8,1311.14 1349.8,1306.14 1349.8,1301.14" fill="#253918" opacity="0.85"/>
<rect x="1353" y="1296.14" width="1.8" height="15" fill="#0f1709"/>
<text x="1317" y="1306.08" font-size="9" font-weight="bold" text-anchor="end" fill="#111" textLength="40" lengthAdjust="spacingAndGlyphs" stroke="#111" stroke-width="0.29">MCN0018</text>
<text x="1361.3" y="1307.18" font-size="9" font-weight="bold" text-anchor="start" fill="#111" stroke="#111" stroke-width="0.29">5600</text>
</svg>
</body></html>
